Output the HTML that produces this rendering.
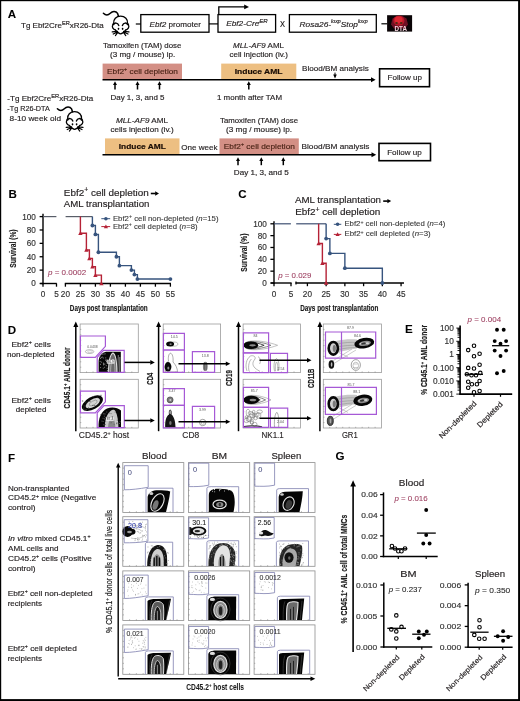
<!DOCTYPE html>
<html><head><meta charset="utf-8"><style>
html,body{margin:0;padding:0;background:#fff;}
svg{display:block;will-change:transform;}
text{font-family:"Liberation Sans", sans-serif;stroke:currentColor;}
</style></head><body>
<svg width="520" height="701" viewBox="0 0 520 701">
<rect x="0" y="0" width="520" height="701" fill="#000"/>
<rect x="1.2" y="1.2" width="516.9" height="697.9" fill="#fff"/>
<text x="7.70" y="17.70" font-size="11.6" font-weight="bold" fill="#000" color="#000" stroke-width="0.05">A</text>
<text x="21.00" y="28.30" font-size="7.9" fill="#231f20" color="#231f20" stroke-width="0.16" textLength="82.70" lengthAdjust="spacingAndGlyphs">Tg Ebf2Cre<tspan dy="-3.0" font-size="5.6">ER</tspan><tspan dy="3.0">xR26-Dta</tspan></text>
<g transform="translate(0.00 0.00)" fill="none" stroke="#000" stroke-width="1.2" stroke-linecap="round" stroke-linejoin="round">
<path d="M103.4,13.3 C105.5,15.3 108.3,15.2 110.3,13.2 C112.3,11.2 115.6,10.4 117.6,13.4 L118.5,16.2" stroke-width="1.5"/>
<path d="M115.4,30 C113.2,29.2 111.8,27.2 112.6,25.2 C112.9,24.3 113.4,23.6 113.7,23.2 C113.2,19.4 116.2,16.1 120.6,16.1 C125,16.1 128,19.4 127.5,23.2 C127.8,23.6 128.3,24.3 128.6,25.2 C129.4,27.2 128,29.2 125.8,30" stroke-width="1.3"/>
<path d="M113.6,24.6 C114.6,22.6 117.6,22.2 118.8,25.6 M127.6,24.6 C126.6,22.6 123.6,22.2 122.4,25.6" stroke-width="1.4"/>
<path d="M115.4,30 C116.8,31.6 118.6,33.8 120.6,33.8 C122.6,33.8 124.4,31.6 125.8,30"/>
<path d="M117.6,31.4 L112.2,31.9 M117.6,31.9 L113.2,34.1 M117.8,32.3 L115.4,35.6 M123.6,31.4 L129,31.9 M123.6,31.9 L128,34.1 M123.4,32.3 L125.8,35.6" stroke-width="1.15"/>
</g>
<g transform="translate(0.00 0.00)" fill="#000">
<ellipse cx="118.5" cy="28.8" rx="0.85" ry="1.15"/><ellipse cx="122.6" cy="28.8" rx="0.85" ry="1.15"/>
</g>
<line x1="135.80" y1="24.00" x2="140.80" y2="24.00" stroke="#000" stroke-width="1.2" />
<rect x="140.80" y="14.60" width="68.20" height="17.60" fill="none" stroke="#000" stroke-width="1.3" />
<text x="149.60" y="26.60" font-size="7.9" fill="#231f20" color="#231f20" stroke-width="0.16" textLength="51.40" lengthAdjust="spacingAndGlyphs"><tspan font-style="italic">Ebf2</tspan> promoter</text>
<line x1="209.00" y1="23.90" x2="218.00" y2="23.90" stroke="#000" stroke-width="1.2" />
<rect x="218.00" y="14.60" width="57.60" height="17.60" fill="none" stroke="#000" stroke-width="1.3" />
<path d="M218.8,14.6 V6.9 H245.5" fill="none" stroke="#000" stroke-width="1.3" />
<path d="M244.2,4.6 L249,6.9 L244.2,9.2 Z" fill="#000" />
<text x="226.20" y="26.40" font-size="7.9" font-style="italic" fill="#231f20" color="#231f20" stroke-width="0.16" textLength="41.50" lengthAdjust="spacingAndGlyphs">Ebf2-Cre<tspan dy="-3.2" font-size="5.8">ER</tspan><tspan dy="3.2"></tspan></text>
<text x="280.00" y="26.80" font-size="8.4" fill="#231f20" color="#231f20" stroke-width="0.16" textLength="5.00" lengthAdjust="spacingAndGlyphs">X</text>
<rect x="289.40" y="14.60" width="86.90" height="17.60" fill="none" stroke="#000" stroke-width="1.3" />
<text x="299.60" y="26.60" font-size="7.9" font-style="italic" fill="#231f20" color="#231f20" stroke-width="0.16" textLength="68.00" lengthAdjust="spacingAndGlyphs">Rosa26-<tspan dy="-3.2" font-size="5.0">loxp</tspan><tspan dy="3.2">Stop</tspan><tspan dy="-3.2" font-size="5.0">loxp</tspan><tspan dy="3.2"></tspan></text>
<line x1="381.40" y1="23.80" x2="387.20" y2="23.80" stroke="#000" stroke-width="1.2" />
<rect x="387.10" y="15.20" width="25.00" height="16.40" fill="#0a0406" />
<path d="M391,24.5 L392.5,18.5 L397,15.8 L402,15.8 L406.5,18.5 L408,24.5 L405,28.5 L394,28.5 Z" fill="#6e1024" />
<ellipse cx="398.9" cy="20.8" rx="5.6" ry="5" fill="#b81828"/>
<ellipse cx="398.6" cy="19.8" rx="4" ry="3.4" fill="#dc2832"/>
<ellipse cx="396.6" cy="23" rx="1.3" ry="1.1" fill="#4a2a10"/><ellipse cx="401.2" cy="23" rx="1.3" ry="1.1" fill="#4a2a10"/>
<text x="394.60" y="30.80" font-size="6.4" font-weight="bold" fill="#f4d4dc" color="#f4d4dc" stroke-width="0" textLength="12.40" lengthAdjust="spacingAndGlyphs">DTA</text>
<text x="103.10" y="47.80" font-size="7.9" fill="#231f20" color="#231f20" stroke-width="0.16" textLength="78.20" lengthAdjust="spacingAndGlyphs">Tamoxifen (TAM) dose</text>
<text x="110.00" y="56.80" font-size="7.9" fill="#231f20" color="#231f20" stroke-width="0.16" textLength="65.30" lengthAdjust="spacingAndGlyphs">(3 mg / mouse) ip.</text>
<text x="233.00" y="47.80" font-size="7.9" fill="#231f20" color="#231f20" stroke-width="0.16" textLength="51.00" lengthAdjust="spacingAndGlyphs"><tspan font-style="italic">MLL-AF9</tspan> AML</text>
<text x="229.50" y="56.80" font-size="7.9" fill="#231f20" color="#231f20" stroke-width="0.16" textLength="58.50" lengthAdjust="spacingAndGlyphs">cell injection (iv.)</text>
<rect x="102.60" y="63.60" width="79.40" height="15.40" fill="#d38f85" />
<rect x="221.20" y="63.60" width="75.10" height="15.40" fill="#edbf82" />
<line x1="102.50" y1="79.70" x2="372.00" y2="79.70" stroke="#000" stroke-width="1.6" />
<path d="M371,77.2 L375.6,79.7 L371,82.2 Z" fill="#000" />
<text x="107.00" y="74.20" font-size="7.9" fill="#4b2417" color="#4b2417" stroke-width="0.16" textLength="71.00" lengthAdjust="spacingAndGlyphs">Ebf2<tspan dy="-2.8" font-size="5">+</tspan><tspan dy="2.8"> cell depletion</tspan></text>
<text x="234.70" y="74.00" font-size="7.9" font-weight="bold" fill="#1a0d05" color="#1a0d05" stroke-width="0.2" textLength="47.80" lengthAdjust="spacingAndGlyphs">Induce AML</text>
<text x="302.00" y="70.50" font-size="7.9" fill="#231f20" color="#231f20" stroke-width="0.16" textLength="66.80" lengthAdjust="spacingAndGlyphs">Blood/BM analysis</text>
<line x1="335.00" y1="72.60" x2="335.00" y2="75.00" stroke="#000" stroke-width="1" />
<path d="M333.2,74.6 L336.8,74.6 L335,78.4 Z" fill="#000" />
<line x1="115.00" y1="84.60" x2="115.00" y2="89.50" stroke="#000" stroke-width="1.5" />
<path d="M113.00,85.10 L115.00,81.30 L117.00,85.10 Z" fill="#000" />
<line x1="137.50" y1="84.60" x2="137.50" y2="89.50" stroke="#000" stroke-width="1.5" />
<path d="M135.50,85.10 L137.50,81.30 L139.50,85.10 Z" fill="#000" />
<line x1="159.50" y1="84.60" x2="159.50" y2="89.50" stroke="#000" stroke-width="1.5" />
<path d="M157.50,85.10 L159.50,81.30 L161.50,85.10 Z" fill="#000" />
<line x1="248.80" y1="84.60" x2="248.80" y2="89.50" stroke="#000" stroke-width="1.5" />
<path d="M246.80,85.10 L248.80,81.30 L250.80,85.10 Z" fill="#000" />
<text x="110.50" y="100.30" font-size="7.9" fill="#231f20" color="#231f20" stroke-width="0.16" textLength="54.00" lengthAdjust="spacingAndGlyphs">Day 1, 3, and 5</text>
<text x="217.00" y="100.10" font-size="7.9" fill="#231f20" color="#231f20" stroke-width="0.16" textLength="65.00" lengthAdjust="spacingAndGlyphs">1 month after TAM</text>
<rect x="379.60" y="68.80" width="49.90" height="17.90" fill="none" stroke="#000" stroke-width="1.6" />
<text x="387.60" y="80.00" font-size="7.9" fill="#231f20" color="#231f20" stroke-width="0.16" textLength="34.50" lengthAdjust="spacingAndGlyphs">Follow up</text>
<text x="7.30" y="101.30" font-size="7.9" fill="#231f20" color="#231f20" stroke-width="0.16" textLength="86.00" lengthAdjust="spacingAndGlyphs">-Tg Ebf2Cre<tspan dy="-3.0" font-size="5.6">ER</tspan><tspan dy="3.0">xR26-Dta</tspan></text>
<text x="7.30" y="111.30" font-size="7.9" fill="#231f20" color="#231f20" stroke-width="0.16" textLength="42.50" lengthAdjust="spacingAndGlyphs">-Tg R26-DTA</text>
<text x="9.60" y="121.40" font-size="7.9" fill="#231f20" color="#231f20" stroke-width="0.16" textLength="51.40" lengthAdjust="spacingAndGlyphs">8-10 week old</text>
<g transform="translate(-46.00 95.50)" fill="none" stroke="#000" stroke-width="1.2" stroke-linecap="round" stroke-linejoin="round">
<path d="M103.4,13.3 C105.5,15.3 108.3,15.2 110.3,13.2 C112.3,11.2 115.6,10.4 117.6,13.4 L118.5,16.2" stroke-width="1.5"/>
<path d="M115.4,30 C113.2,29.2 111.8,27.2 112.6,25.2 C112.9,24.3 113.4,23.6 113.7,23.2 C113.2,19.4 116.2,16.1 120.6,16.1 C125,16.1 128,19.4 127.5,23.2 C127.8,23.6 128.3,24.3 128.6,25.2 C129.4,27.2 128,29.2 125.8,30" stroke-width="1.3"/>
<path d="M113.6,24.6 C114.6,22.6 117.6,22.2 118.8,25.6 M127.6,24.6 C126.6,22.6 123.6,22.2 122.4,25.6" stroke-width="1.4"/>
<path d="M115.4,30 C116.8,31.6 118.6,33.8 120.6,33.8 C122.6,33.8 124.4,31.6 125.8,30"/>
<path d="M117.6,31.4 L112.2,31.9 M117.6,31.9 L113.2,34.1 M117.8,32.3 L115.4,35.6 M123.6,31.4 L129,31.9 M123.6,31.9 L128,34.1 M123.4,32.3 L125.8,35.6" stroke-width="1.15"/>
</g>
<g transform="translate(-46.00 95.50)" fill="#000">
<ellipse cx="118.5" cy="28.8" rx="0.85" ry="1.15"/><ellipse cx="122.6" cy="28.8" rx="0.85" ry="1.15"/>
</g>
<text x="116.00" y="122.50" font-size="7.9" fill="#231f20" color="#231f20" stroke-width="0.16" textLength="52.00" lengthAdjust="spacingAndGlyphs"><tspan font-style="italic">MLL-AF9</tspan> AML</text>
<text x="110.50" y="132.00" font-size="7.9" fill="#231f20" color="#231f20" stroke-width="0.16" textLength="63.30" lengthAdjust="spacingAndGlyphs">cells injection (iv.)</text>
<rect x="105.00" y="138.40" width="74.50" height="15.60" fill="#edbf82" />
<text x="118.80" y="148.70" font-size="7.9" font-weight="bold" fill="#1a0d05" color="#1a0d05" stroke-width="0.2" textLength="47.00" lengthAdjust="spacingAndGlyphs">Induce AML</text>
<text x="181.30" y="150.00" font-size="7.9" fill="#231f20" color="#231f20" stroke-width="0.16" textLength="36.30" lengthAdjust="spacingAndGlyphs">One week</text>
<rect x="219.50" y="138.40" width="79.30" height="15.60" fill="#d38f85" />
<text x="220.00" y="122.50" font-size="7.9" fill="#231f20" color="#231f20" stroke-width="0.16" textLength="78.00" lengthAdjust="spacingAndGlyphs">Tamoxifen (TAM) dose</text>
<text x="226.00" y="132.00" font-size="7.9" fill="#231f20" color="#231f20" stroke-width="0.16" textLength="66.00" lengthAdjust="spacingAndGlyphs">(3 mg / mouse) ip.</text>
<text x="223.80" y="148.70" font-size="7.9" fill="#4b2417" color="#4b2417" stroke-width="0.16" textLength="71.20" lengthAdjust="spacingAndGlyphs">Ebf2<tspan dy="-2.8" font-size="5">+</tspan><tspan dy="2.8"> cell depletion</tspan></text>
<text x="301.50" y="149.30" font-size="7.9" fill="#231f20" color="#231f20" stroke-width="0.16" textLength="68.00" lengthAdjust="spacingAndGlyphs">Blood/BM analysis</text>
<line x1="102.50" y1="154.70" x2="373.00" y2="154.70" stroke="#000" stroke-width="1.6" />
<path d="M371.5,152.2 L376.2,154.7 L371.5,157.2 Z" fill="#000" />
<rect x="379.00" y="143.40" width="51.50" height="17.30" fill="none" stroke="#000" stroke-width="1.6" />
<text x="387.20" y="154.70" font-size="7.9" fill="#231f20" color="#231f20" stroke-width="0.16" textLength="34.50" lengthAdjust="spacingAndGlyphs">Follow up</text>
<line x1="238.00" y1="160.60" x2="238.00" y2="165.20" stroke="#000" stroke-width="1.5" />
<path d="M236.00,161.10 L238.00,157.30 L240.00,161.10 Z" fill="#000" />
<line x1="261.30" y1="160.60" x2="261.30" y2="165.20" stroke="#000" stroke-width="1.5" />
<path d="M259.30,161.10 L261.30,157.30 L263.30,161.10 Z" fill="#000" />
<line x1="283.30" y1="160.60" x2="283.30" y2="165.20" stroke="#000" stroke-width="1.5" />
<path d="M281.30,161.10 L283.30,157.30 L285.30,161.10 Z" fill="#000" />
<text x="233.80" y="175.40" font-size="7.9" fill="#231f20" color="#231f20" stroke-width="0.16" textLength="55.00" lengthAdjust="spacingAndGlyphs">Day 1, 3, and 5</text>
<text x="8.60" y="197.50" font-size="11.6" font-weight="bold" fill="#000" color="#000" stroke-width="0.05">B</text>
<text x="63.80" y="195.70" font-size="9.6" fill="#231f20" color="#231f20" stroke-width="0.16" textLength="85.00" lengthAdjust="spacingAndGlyphs">Ebf2<tspan dy="-3.4" font-size="6.6">+</tspan><tspan dy="3.4"> cell depletion</tspan></text>
<line x1="150.80" y1="193.50" x2="155.70" y2="193.50" stroke="#000" stroke-width="1.6" />
<path d="M155.20,191.30 L159.00,193.50 L155.20,195.70 Z" fill="#000" />
<text x="63.80" y="207.00" font-size="9.6" fill="#231f20" color="#231f20" stroke-width="0.16" textLength="85.60" lengthAdjust="spacingAndGlyphs">AML transplantation</text>
<line x1="43.00" y1="213.80" x2="43.00" y2="284.30" stroke="#000" stroke-width="1.4" />
<line x1="39.60" y1="283.50" x2="43.00" y2="283.50" stroke="#000" stroke-width="1.3" />
<text x="35.80" y="286.40" font-size="8.2" text-anchor="end" fill="#333" color="#333" stroke-width="0.16">0</text>
<line x1="39.60" y1="270.12" x2="43.00" y2="270.12" stroke="#000" stroke-width="1.3" />
<text x="35.80" y="273.02" font-size="8.2" text-anchor="end" fill="#333" color="#333" stroke-width="0.16">20</text>
<line x1="39.60" y1="256.74" x2="43.00" y2="256.74" stroke="#000" stroke-width="1.3" />
<text x="35.80" y="259.64" font-size="8.2" text-anchor="end" fill="#333" color="#333" stroke-width="0.16">40</text>
<line x1="39.60" y1="243.36" x2="43.00" y2="243.36" stroke="#000" stroke-width="1.3" />
<text x="35.80" y="246.26" font-size="8.2" text-anchor="end" fill="#333" color="#333" stroke-width="0.16">60</text>
<line x1="39.60" y1="229.98" x2="43.00" y2="229.98" stroke="#000" stroke-width="1.3" />
<text x="35.80" y="232.88" font-size="8.2" text-anchor="end" fill="#333" color="#333" stroke-width="0.16">80</text>
<line x1="39.60" y1="216.60" x2="43.00" y2="216.60" stroke="#000" stroke-width="1.3" />
<text x="35.80" y="219.50" font-size="8.2" text-anchor="end" fill="#333" color="#333" stroke-width="0.16">100</text>
<line x1="40.30" y1="283.50" x2="56.80" y2="283.50" stroke="#000" stroke-width="1.4" />
<line x1="64.80" y1="283.50" x2="171.00" y2="283.50" stroke="#000" stroke-width="1.4" />
<line x1="43.00" y1="283.50" x2="43.00" y2="286.70" stroke="#000" stroke-width="1.3" />
<text x="43.00" y="296.90" font-size="8.2" text-anchor="middle" fill="#333" color="#333" stroke-width="0.16">0</text>
<line x1="56.50" y1="283.50" x2="56.50" y2="286.70" stroke="#000" stroke-width="1.3" />
<text x="56.50" y="296.90" font-size="8.2" text-anchor="middle" fill="#333" color="#333" stroke-width="0.16">5</text>
<line x1="65.40" y1="283.50" x2="65.40" y2="286.70" stroke="#000" stroke-width="1.3" />
<text x="65.40" y="296.90" font-size="8.2" text-anchor="middle" fill="#333" color="#333" stroke-width="0.16">20</text>
<line x1="80.40" y1="283.50" x2="80.40" y2="286.70" stroke="#000" stroke-width="1.3" />
<text x="80.40" y="296.90" font-size="8.2" text-anchor="middle" fill="#333" color="#333" stroke-width="0.16">25</text>
<line x1="95.40" y1="283.50" x2="95.40" y2="286.70" stroke="#000" stroke-width="1.3" />
<text x="95.40" y="296.90" font-size="8.2" text-anchor="middle" fill="#333" color="#333" stroke-width="0.16">30</text>
<line x1="110.40" y1="283.50" x2="110.40" y2="286.70" stroke="#000" stroke-width="1.3" />
<text x="110.40" y="296.90" font-size="8.2" text-anchor="middle" fill="#333" color="#333" stroke-width="0.16">35</text>
<line x1="125.40" y1="283.50" x2="125.40" y2="286.70" stroke="#000" stroke-width="1.3" />
<text x="125.40" y="296.90" font-size="8.2" text-anchor="middle" fill="#333" color="#333" stroke-width="0.16">40</text>
<line x1="140.40" y1="283.50" x2="140.40" y2="286.70" stroke="#000" stroke-width="1.3" />
<text x="140.40" y="296.90" font-size="8.2" text-anchor="middle" fill="#333" color="#333" stroke-width="0.16">45</text>
<line x1="155.40" y1="283.50" x2="155.40" y2="286.70" stroke="#000" stroke-width="1.3" />
<text x="155.40" y="296.90" font-size="8.2" text-anchor="middle" fill="#333" color="#333" stroke-width="0.16">50</text>
<line x1="170.40" y1="283.50" x2="170.40" y2="286.70" stroke="#000" stroke-width="1.3" />
<text x="170.40" y="296.90" font-size="8.2" text-anchor="middle" fill="#333" color="#333" stroke-width="0.16">55</text>
<text x="69.80" y="311.00" font-size="9.3" font-weight="bold" fill="#1a1a1a" color="#1a1a1a" stroke-width="0.15" textLength="77.90" lengthAdjust="spacingAndGlyphs">Days post transplantation</text>
<text x="15.60" y="267.80" font-size="9.2" font-weight="bold" fill="#1a1a1a" color="#1a1a1a" stroke-width="0.15" textLength="38.40" lengthAdjust="spacingAndGlyphs" transform="rotate(-90 15.60 267.80)">Survival (%)</text>
<line x1="43.00" y1="216.60" x2="56.40" y2="216.60" stroke="#585d68" stroke-width="1.2" />
<line x1="65.60" y1="216.60" x2="92.40" y2="216.60" stroke="#585d68" stroke-width="1.2" />
<path d="M92.40,216.60 H92.40 V225.50 H95.40 V234.46 H98.40 V252.26 H116.40 V256.74 H119.40 V265.64 H131.40 V270.12 H134.40 V274.60 H137.40 V279.04 H170.40 V279.04" fill="none" stroke="#37547e" stroke-width="1.4" />
<circle cx="92.40" cy="225.50" r="1.9" fill="#37547e"/>
<circle cx="95.40" cy="234.46" r="1.9" fill="#37547e"/>
<circle cx="98.40" cy="252.26" r="1.9" fill="#37547e"/>
<circle cx="116.40" cy="256.74" r="1.9" fill="#37547e"/>
<circle cx="119.40" cy="265.64" r="1.9" fill="#37547e"/>
<circle cx="131.40" cy="270.12" r="1.9" fill="#37547e"/>
<circle cx="134.40" cy="274.60" r="1.9" fill="#37547e"/>
<circle cx="137.40" cy="279.04" r="1.9" fill="#37547e"/>
<circle cx="170.40" cy="279.04" r="1.9" fill="#37547e"/>
<path d="M80.40,216.60 V233.32 H86.40 V250.05 H89.40 V258.41 H92.40 V266.77 H95.40 V275.14 H101.40 V283.50" fill="none" stroke="#b52236" stroke-width="1.4" />
<path d="M78.20,235.08 L80.40,231.12 L82.60,235.08 Z" fill="#b52236" />
<path d="M84.20,251.81 L86.40,247.85 L88.60,251.81 Z" fill="#b52236" />
<path d="M87.20,260.17 L89.40,256.21 L91.60,260.17 Z" fill="#b52236" />
<path d="M90.20,268.53 L92.40,264.57 L94.60,268.53 Z" fill="#b52236" />
<path d="M93.20,276.90 L95.40,272.94 L97.60,276.90 Z" fill="#b52236" />
<path d="M99.20,285.26 L101.40,281.30 L103.60,285.26 Z" fill="#b52236" />
<line x1="101.30" y1="218.70" x2="110.20" y2="218.70" stroke="#37547e" stroke-width="1" />
<circle cx="105.90" cy="218.70" r="1.8" fill="#37547e"/>
<line x1="101.30" y1="226.60" x2="110.20" y2="226.60" stroke="#b52236" stroke-width="1" />
<path d="M103.80,228.28 L105.90,224.50 L108.00,228.28 Z" fill="#b52236" />
<text x="112.90" y="220.60" font-size="7.2" fill="#333" color="#333" stroke-width="0.08" textLength="105.60" lengthAdjust="spacingAndGlyphs">Ebf2<tspan dy="-2.6" font-size="4.8">+</tspan><tspan dy="2.6"> cell non-depleted (</tspan><tspan font-style="italic">n</tspan>=15)</text>
<text x="112.90" y="228.60" font-size="7.2" fill="#333" color="#333" stroke-width="0.08" textLength="84.60" lengthAdjust="spacingAndGlyphs">Ebf2<tspan dy="-2.6" font-size="4.8">+</tspan><tspan dy="2.6"> cell depleted (</tspan><tspan font-style="italic">n</tspan>=8)</text>
<text x="48.00" y="274.50" font-size="7.6" fill="#9a3a5c" color="#9a3a5c" stroke-width="0.06" textLength="38.20" lengthAdjust="spacingAndGlyphs"><tspan font-style="italic">p</tspan> = 0.0002</text>
<text x="238.30" y="197.50" font-size="11.6" font-weight="bold" fill="#000" color="#000" stroke-width="0.05">C</text>
<text x="295.00" y="202.50" font-size="9.6" fill="#231f20" color="#231f20" stroke-width="0.16" textLength="86.00" lengthAdjust="spacingAndGlyphs">AML transplantation</text>
<line x1="383.20" y1="201.10" x2="387.90" y2="201.10" stroke="#000" stroke-width="1.6" />
<path d="M387.40,198.90 L391.20,201.10 L387.40,203.30 Z" fill="#000" />
<text x="295.20" y="215.20" font-size="9.6" fill="#231f20" color="#231f20" stroke-width="0.16" textLength="85.10" lengthAdjust="spacingAndGlyphs">Ebf2<tspan dy="-3.4" font-size="6.6">+</tspan><tspan dy="3.4"> cell depletion</tspan></text>
<line x1="274.00" y1="221.20" x2="274.00" y2="283.80" stroke="#000" stroke-width="1.4" />
<line x1="270.40" y1="283.00" x2="274.00" y2="283.00" stroke="#000" stroke-width="1.3" />
<text x="266.90" y="285.90" font-size="8.2" text-anchor="end" fill="#333" color="#333" stroke-width="0.16">0</text>
<line x1="270.40" y1="271.16" x2="274.00" y2="271.16" stroke="#000" stroke-width="1.3" />
<text x="266.90" y="274.06" font-size="8.2" text-anchor="end" fill="#333" color="#333" stroke-width="0.16">20</text>
<line x1="270.40" y1="259.32" x2="274.00" y2="259.32" stroke="#000" stroke-width="1.3" />
<text x="266.90" y="262.22" font-size="8.2" text-anchor="end" fill="#333" color="#333" stroke-width="0.16">40</text>
<line x1="270.40" y1="247.48" x2="274.00" y2="247.48" stroke="#000" stroke-width="1.3" />
<text x="266.90" y="250.38" font-size="8.2" text-anchor="end" fill="#333" color="#333" stroke-width="0.16">60</text>
<line x1="270.40" y1="235.64" x2="274.00" y2="235.64" stroke="#000" stroke-width="1.3" />
<text x="266.90" y="238.54" font-size="8.2" text-anchor="end" fill="#333" color="#333" stroke-width="0.16">80</text>
<line x1="270.40" y1="223.80" x2="274.00" y2="223.80" stroke="#000" stroke-width="1.3" />
<text x="266.90" y="226.70" font-size="8.2" text-anchor="end" fill="#333" color="#333" stroke-width="0.16">100</text>
<line x1="270.70" y1="283.00" x2="291.60" y2="283.00" stroke="#000" stroke-width="1.4" />
<line x1="295.60" y1="283.00" x2="404.00" y2="283.00" stroke="#000" stroke-width="1.4" />
<line x1="296.00" y1="281.40" x2="296.00" y2="284.60" stroke="#000" stroke-width="1.2" />
<line x1="274.00" y1="283.00" x2="274.00" y2="286.20" stroke="#000" stroke-width="1.3" />
<text x="274.00" y="296.60" font-size="8.2" text-anchor="middle" fill="#333" color="#333" stroke-width="0.16">0</text>
<line x1="291.00" y1="283.00" x2="291.00" y2="286.20" stroke="#000" stroke-width="1.3" />
<text x="291.00" y="296.60" font-size="8.2" text-anchor="middle" fill="#333" color="#333" stroke-width="0.16">5</text>
<line x1="307.40" y1="283.00" x2="307.40" y2="286.20" stroke="#000" stroke-width="1.3" />
<text x="307.40" y="296.60" font-size="8.2" text-anchor="middle" fill="#333" color="#333" stroke-width="0.16">20</text>
<line x1="326.13" y1="283.00" x2="326.13" y2="286.20" stroke="#000" stroke-width="1.3" />
<text x="326.13" y="296.60" font-size="8.2" text-anchor="middle" fill="#333" color="#333" stroke-width="0.16">25</text>
<line x1="344.87" y1="283.00" x2="344.87" y2="286.20" stroke="#000" stroke-width="1.3" />
<text x="344.87" y="296.60" font-size="8.2" text-anchor="middle" fill="#333" color="#333" stroke-width="0.16">30</text>
<line x1="363.60" y1="283.00" x2="363.60" y2="286.20" stroke="#000" stroke-width="1.3" />
<text x="363.60" y="296.60" font-size="8.2" text-anchor="middle" fill="#333" color="#333" stroke-width="0.16">35</text>
<line x1="382.34" y1="283.00" x2="382.34" y2="286.20" stroke="#000" stroke-width="1.3" />
<text x="382.34" y="296.60" font-size="8.2" text-anchor="middle" fill="#333" color="#333" stroke-width="0.16">40</text>
<line x1="401.07" y1="283.00" x2="401.07" y2="286.20" stroke="#000" stroke-width="1.3" />
<text x="401.07" y="296.60" font-size="8.2" text-anchor="middle" fill="#333" color="#333" stroke-width="0.16">45</text>
<text x="300.20" y="310.80" font-size="9.3" font-weight="bold" fill="#1a1a1a" color="#1a1a1a" stroke-width="0.15" textLength="78.20" lengthAdjust="spacingAndGlyphs">Days post transplantation</text>
<text x="247.30" y="271.70" font-size="9.2" font-weight="bold" fill="#1a1a1a" color="#1a1a1a" stroke-width="0.15" textLength="38.10" lengthAdjust="spacingAndGlyphs" transform="rotate(-90 247.30 271.70)">Survival (%)</text>
<line x1="274.00" y1="223.80" x2="290.90" y2="223.80" stroke="#3f5172" stroke-width="1.2" />
<line x1="296.20" y1="223.80" x2="326.13" y2="223.80" stroke="#3f5172" stroke-width="1.2" />
<path d="M326.13,223.80 H326.13 V238.60 H329.88 V253.40 H344.87 V268.20 H382.34 V283.00" fill="none" stroke="#37547e" stroke-width="1.4" />
<circle cx="326.13" cy="238.60" r="1.9" fill="#37547e"/>
<circle cx="329.88" cy="253.40" r="1.9" fill="#37547e"/>
<circle cx="344.87" cy="268.20" r="1.9" fill="#37547e"/>
<circle cx="382.34" cy="283.00" r="1.9" fill="#37547e"/>
<path d="M318.64,223.80 V243.51 H322.39 V263.29 H326.13 V283.00" fill="none" stroke="#b52236" stroke-width="1.4" />
<path d="M316.44,245.27 L318.64,241.31 L320.84,245.27 Z" fill="#b52236" />
<path d="M320.19,265.05 L322.39,261.09 L324.59,265.05 Z" fill="#b52236" />
<path d="M323.94,284.76 L326.13,280.80 L328.33,284.76 Z" fill="#b52236" />
<line x1="333.80" y1="224.30" x2="341.30" y2="224.30" stroke="#37547e" stroke-width="1" />
<circle cx="337.60" cy="224.30" r="1.8" fill="#37547e"/>
<line x1="333.80" y1="234.40" x2="341.30" y2="234.40" stroke="#b52236" stroke-width="1" />
<path d="M335.50,236.08 L337.60,232.30 L339.70,236.08 Z" fill="#b52236" />
<text x="344.40" y="226.40" font-size="7.2" fill="#333" color="#333" stroke-width="0.08" textLength="100.90" lengthAdjust="spacingAndGlyphs">Ebf2<tspan dy="-2.6" font-size="4.8">+</tspan><tspan dy="2.6"> cell non-depleted (</tspan><tspan font-style="italic">n</tspan>=4)</text>
<text x="344.40" y="236.40" font-size="7.2" fill="#333" color="#333" stroke-width="0.08" textLength="86.30" lengthAdjust="spacingAndGlyphs">Ebf2<tspan dy="-2.6" font-size="4.8">+</tspan><tspan dy="2.6"> cell depleted (</tspan><tspan font-style="italic">n</tspan>=3)</text>
<text x="278.20" y="278.20" font-size="7.6" fill="#9a3a5c" color="#9a3a5c" stroke-width="0.06" textLength="33.20" lengthAdjust="spacingAndGlyphs"><tspan font-style="italic">p</tspan> = 0.029</text>
<text x="7.80" y="333.60" font-size="11.6" font-weight="bold" fill="#000" color="#000" stroke-width="0.05">D</text>
<text x="31.20" y="346.50" font-size="7.9" text-anchor="middle" fill="#231f20" color="#231f20" stroke-width="0.16" textLength="39.50" lengthAdjust="spacingAndGlyphs">Ebf2<tspan dy="-2.8" font-size="5">+</tspan><tspan dy="2.8"> cells</tspan></text>
<text x="30.80" y="356.80" font-size="7.9" text-anchor="middle" fill="#231f20" color="#231f20" stroke-width="0.16" textLength="47.60" lengthAdjust="spacingAndGlyphs">non-depleted</text>
<text x="31.20" y="402.60" font-size="7.9" text-anchor="middle" fill="#231f20" color="#231f20" stroke-width="0.16" textLength="39.50" lengthAdjust="spacingAndGlyphs">Ebf2<tspan dy="-2.8" font-size="5">+</tspan><tspan dy="2.8"> cells</tspan></text>
<text x="31.10" y="412.40" font-size="7.9" text-anchor="middle" fill="#231f20" color="#231f20" stroke-width="0.16" textLength="30.60" lengthAdjust="spacingAndGlyphs">depleted</text>
<line x1="75.80" y1="326.60" x2="75.80" y2="431.20" stroke="#000" stroke-width="1.5" />
<path d="M73.30,327.10 L75.80,321.60 L78.30,327.10 Z" fill="#000" />
<line x1="158.60" y1="326.60" x2="158.60" y2="431.20" stroke="#000" stroke-width="1.5" />
<path d="M156.10,327.10 L158.60,321.60 L161.10,327.10 Z" fill="#000" />
<line x1="238.50" y1="326.60" x2="238.50" y2="431.20" stroke="#000" stroke-width="1.5" />
<path d="M236.00,327.10 L238.50,321.60 L241.00,327.10 Z" fill="#000" />
<line x1="319.90" y1="326.60" x2="319.90" y2="431.20" stroke="#000" stroke-width="1.5" />
<path d="M317.40,327.10 L319.90,321.60 L322.40,327.10 Z" fill="#000" />
<text x="70.40" y="408.40" font-size="9.6" font-weight="bold" fill="#1a1a1a" color="#1a1a1a" stroke-width="0.18" textLength="61.00" lengthAdjust="spacingAndGlyphs" transform="rotate(-90 70.40 408.40)">CD45.1<tspan dy="-3.2" font-size="6">+</tspan><tspan dy="3.2"> AML donor</tspan></text>
<text x="153.30" y="384.70" font-size="9.6" font-weight="bold" fill="#1a1a1a" color="#1a1a1a" stroke-width="0.18" textLength="12.00" lengthAdjust="spacingAndGlyphs" transform="rotate(-90 153.30 384.70)">CD4</text>
<text x="232.40" y="386.10" font-size="9.6" font-weight="bold" fill="#1a1a1a" color="#1a1a1a" stroke-width="0.18" textLength="16.00" lengthAdjust="spacingAndGlyphs" transform="rotate(-90 232.40 386.10)">CD19</text>
<text x="313.90" y="387.90" font-size="9.6" font-weight="bold" fill="#1a1a1a" color="#1a1a1a" stroke-width="0.18" textLength="19.30" lengthAdjust="spacingAndGlyphs" transform="rotate(-90 313.90 387.90)">CD11B</text>
<text x="78.80" y="438.10" font-size="8.2" fill="#231f20" color="#231f20" stroke-width="0.12" textLength="50.40" lengthAdjust="spacingAndGlyphs">CD45.2<tspan dy="-2.8" font-size="5.2">+</tspan><tspan dy="2.8"> host</tspan></text>
<text x="182.30" y="438.40" font-size="8.2" fill="#231f20" color="#231f20" stroke-width="0.12" textLength="16.90" lengthAdjust="spacingAndGlyphs">CD8</text>
<text x="261.50" y="438.40" font-size="8.2" fill="#231f20" color="#231f20" stroke-width="0.12" textLength="22.30" lengthAdjust="spacingAndGlyphs">NK1.1</text>
<text x="341.90" y="437.80" font-size="8.2" fill="#231f20" color="#231f20" stroke-width="0.12" textLength="15.80" lengthAdjust="spacingAndGlyphs">GR1</text>
<rect x="80.10" y="324.00" width="58.20" height="48.60" fill="none" stroke="#9c9c9c" stroke-width="0.8" />
<path d="M80.10,329.40 h1.2 M80.10,334.80 h1.2 M80.10,340.20 h1.2 M80.10,345.60 h1.2 M80.10,351.00 h1.2 M80.10,356.40 h1.2 M80.10,361.80 h1.2 M80.10,367.20 h1.2 M86.57,372.60 v-1.2 M93.03,372.60 v-1.2 M99.50,372.60 v-1.2 M105.97,372.60 v-1.2 M112.43,372.60 v-1.2 M118.90,372.60 v-1.2 M125.37,372.60 v-1.2 M131.83,372.60 v-1.2 " fill="none" stroke="#777" stroke-width="0.5" />
<rect x="80.10" y="379.30" width="58.20" height="48.70" fill="none" stroke="#9c9c9c" stroke-width="0.8" />
<path d="M80.10,384.71 h1.2 M80.10,390.12 h1.2 M80.10,395.53 h1.2 M80.10,400.94 h1.2 M80.10,406.36 h1.2 M80.10,411.77 h1.2 M80.10,417.18 h1.2 M80.10,422.59 h1.2 M86.57,428.00 v-1.2 M93.03,428.00 v-1.2 M99.50,428.00 v-1.2 M105.97,428.00 v-1.2 M112.43,428.00 v-1.2 M118.90,428.00 v-1.2 M125.37,428.00 v-1.2 M131.83,428.00 v-1.2 " fill="none" stroke="#777" stroke-width="0.5" />
<rect x="163.20" y="324.00" width="57.40" height="48.60" fill="none" stroke="#9c9c9c" stroke-width="0.8" />
<path d="M163.20,329.40 h1.2 M163.20,334.80 h1.2 M163.20,340.20 h1.2 M163.20,345.60 h1.2 M163.20,351.00 h1.2 M163.20,356.40 h1.2 M163.20,361.80 h1.2 M163.20,367.20 h1.2 M169.58,372.60 v-1.2 M175.96,372.60 v-1.2 M182.33,372.60 v-1.2 M188.71,372.60 v-1.2 M195.09,372.60 v-1.2 M201.47,372.60 v-1.2 M207.84,372.60 v-1.2 M214.22,372.60 v-1.2 " fill="none" stroke="#777" stroke-width="0.5" />
<rect x="163.20" y="379.30" width="57.40" height="48.70" fill="none" stroke="#9c9c9c" stroke-width="0.8" />
<path d="M163.20,384.71 h1.2 M163.20,390.12 h1.2 M163.20,395.53 h1.2 M163.20,400.94 h1.2 M163.20,406.36 h1.2 M163.20,411.77 h1.2 M163.20,417.18 h1.2 M163.20,422.59 h1.2 M169.58,428.00 v-1.2 M175.96,428.00 v-1.2 M182.33,428.00 v-1.2 M188.71,428.00 v-1.2 M195.09,428.00 v-1.2 M201.47,428.00 v-1.2 M207.84,428.00 v-1.2 M214.22,428.00 v-1.2 " fill="none" stroke="#777" stroke-width="0.5" />
<rect x="243.10" y="324.00" width="57.30" height="48.60" fill="none" stroke="#9c9c9c" stroke-width="0.8" />
<path d="M243.10,329.40 h1.2 M243.10,334.80 h1.2 M243.10,340.20 h1.2 M243.10,345.60 h1.2 M243.10,351.00 h1.2 M243.10,356.40 h1.2 M243.10,361.80 h1.2 M243.10,367.20 h1.2 M249.47,372.60 v-1.2 M255.83,372.60 v-1.2 M262.20,372.60 v-1.2 M268.57,372.60 v-1.2 M274.93,372.60 v-1.2 M281.30,372.60 v-1.2 M287.67,372.60 v-1.2 M294.03,372.60 v-1.2 " fill="none" stroke="#777" stroke-width="0.5" />
<rect x="243.10" y="379.30" width="57.30" height="48.70" fill="none" stroke="#9c9c9c" stroke-width="0.8" />
<path d="M243.10,384.71 h1.2 M243.10,390.12 h1.2 M243.10,395.53 h1.2 M243.10,400.94 h1.2 M243.10,406.36 h1.2 M243.10,411.77 h1.2 M243.10,417.18 h1.2 M243.10,422.59 h1.2 M249.47,428.00 v-1.2 M255.83,428.00 v-1.2 M262.20,428.00 v-1.2 M268.57,428.00 v-1.2 M274.93,428.00 v-1.2 M281.30,428.00 v-1.2 M287.67,428.00 v-1.2 M294.03,428.00 v-1.2 " fill="none" stroke="#777" stroke-width="0.5" />
<rect x="323.30" y="324.00" width="58.30" height="48.60" fill="none" stroke="#9c9c9c" stroke-width="0.8" />
<path d="M323.30,329.40 h1.2 M323.30,334.80 h1.2 M323.30,340.20 h1.2 M323.30,345.60 h1.2 M323.30,351.00 h1.2 M323.30,356.40 h1.2 M323.30,361.80 h1.2 M323.30,367.20 h1.2 M329.78,372.60 v-1.2 M336.26,372.60 v-1.2 M342.73,372.60 v-1.2 M349.21,372.60 v-1.2 M355.69,372.60 v-1.2 M362.17,372.60 v-1.2 M368.64,372.60 v-1.2 M375.12,372.60 v-1.2 " fill="none" stroke="#777" stroke-width="0.5" />
<rect x="323.30" y="379.30" width="58.30" height="48.70" fill="none" stroke="#9c9c9c" stroke-width="0.8" />
<path d="M323.30,384.71 h1.2 M323.30,390.12 h1.2 M323.30,395.53 h1.2 M323.30,400.94 h1.2 M323.30,406.36 h1.2 M323.30,411.77 h1.2 M323.30,417.18 h1.2 M323.30,422.59 h1.2 M329.78,428.00 v-1.2 M336.26,428.00 v-1.2 M342.73,428.00 v-1.2 M349.21,428.00 v-1.2 M355.69,428.00 v-1.2 M362.17,428.00 v-1.2 M368.64,428.00 v-1.2 M375.12,428.00 v-1.2 " fill="none" stroke="#777" stroke-width="0.5" />
<path d="M98.6,372 L98.6,361 C99,356 102,352.6 106,351.8 L120.8,351.8 L120.8,372 Z" fill="#060606" />
<path d="M102.9,363.1 h0.9 M106.4,361.4 h0.9 M103.3,363.6 h0.9 M100.9,362.2 h0.9 M104.2,367.3 h0.9 M100.2,358.5 h0.9 M100.2,367.6 h0.9 M104.7,353.8 h0.9 M106.9,370.4 h0.9 M104.4,364.1 h0.9 M100.7,353.3 h0.9 M103.5,354.1 h0.9 M100.9,357.4 h0.9 M99.7,361.4 h0.9 M102.8,368.2 h0.9 M103.4,364.5 h0.9 M103.2,364.9 h0.9 M102.9,358.0 h0.9 M107.0,370.9 h0.9 M105.8,365.7 h0.9 M101.9,357.1 h0.9 M101.7,354.3 h0.9 M105.2,360.2 h0.9 M105.8,360.0 h0.9 M106.7,368.3 h0.9 M99.5,356.8 h0.9 M106.3,361.5 h0.9 M106.9,360.2 h0.9 M100.0,364.3 h0.9 M105.3,357.9 h0.9 " fill="none" stroke="#9a9a9a" stroke-width="0.9" />
<path d="M108.6,372 C108.6,362 110.2,354.5 113,353 C115.6,354.5 116.8,362 116.8,372" fill="#6a6a6a" stroke="#e0e0e0" stroke-width="1.1" />
<path d="M110.6,372 C110.6,365 111.6,360 113,359 C114.4,360 115,365 115,372" fill="none" stroke="#c8c8c8" stroke-width="0.7" />
<path d="M117.8,372 L118.3,355 M119.6,372 L119.8,357" fill="none" stroke="#cfcfcf" stroke-width="0.6" />
<rect x="106.80" y="359.80" width="7.60" height="3.80" fill="#f4f4f4" />
<text x="110.60" y="362.80" font-size="3.4" text-anchor="middle" fill="#333" color="#333" stroke-width="0">86.9</text>
<ellipse cx="89.6" cy="351.6" rx="4.2" ry="1.9" fill="none" stroke="#888" stroke-width="0.6"/>
<ellipse cx="90" cy="351.7" rx="2.2" ry="1" fill="none" stroke="#aaa" stroke-width="0.5"/>
<text x="92.40" y="347.80" font-size="3.4" text-anchor="middle" fill="#555" color="#555" stroke-width="0">0.0438</text>
<path d="M80.40,336.00 L105.40,336.00 L105.40,346.30 L95.30,357.40 L80.40,357.40 Z" fill="none" stroke="#a659d6" stroke-width="1.2" />
<path d="M103.50,350.40 L124.20,350.40 L124.20,372.30 L97.20,372.30 L97.20,357.40 Z" fill="none" stroke="#a659d6" stroke-width="1.2" />
<ellipse cx="92.4" cy="403.2" rx="11.6" ry="6.2" transform="rotate(-30 92.4 403.2)" fill="#060606"/>
<ellipse cx="92.8" cy="403.2" rx="8" ry="3.7" transform="rotate(-30 92.8 403.2)" fill="#d4d4d4"/>
<ellipse cx="93.2" cy="403" rx="4.5" ry="1.9" transform="rotate(-30 93.2 403)" fill="none" stroke="#8a8a8a" stroke-width="0.6"/>
<path d="M92.4,405.5 h1.0 M96.7,397.3 h1.0 M82.2,401.0 h1.0 M88.0,408.0 h1.0 M97.2,404.6 h1.0 M94.3,405.6 h1.0 M85.2,402.0 h1.0 M85.6,409.5 h1.0 M83.3,408.1 h1.0 M83.6,406.0 h1.0 M89.4,401.5 h1.0 M100.5,395.3 h1.0 M83.3,409.6 h1.0 M93.2,396.5 h1.0 " fill="none" stroke="#444" stroke-width="1.0" />
<path d="M98.6,427.6 C98,419 101,411.5 107,408.5 C112,406.5 117.5,407.5 121,410.5 L121,427.6 Z" fill="#060606" />
<path d="M104.8,427.6 C104.6,420 107,414 110.5,411 C112.2,409.5 114.2,409 115.4,411 C117.4,415 118.4,421 118.4,427.6 Z" fill="#c8c8c8" />
<path d="M108,427.6 C108.2,422.5 109.8,418.5 112,416.5 C114,418.5 115.2,422.5 115.4,427.6 Z" fill="#8a8a8a" />
<path d="M105.2,421.6 h0.9 M113.7,424.4 h0.9 M103.7,413.9 h0.9 M102.9,413.8 h0.9 M114.7,412.2 h0.9 M110.6,413.6 h0.9 M105.9,417.3 h0.9 M116.8,420.3 h0.9 M100.3,414.7 h0.9 M102.9,424.8 h0.9 M116.2,423.7 h0.9 M116.5,422.7 h0.9 M119.0,423.5 h0.9 M105.1,424.4 h0.9 M109.7,422.8 h0.9 M111.3,417.3 h0.9 M107.3,417.3 h0.9 M106.3,412.0 h0.9 M116.4,423.6 h0.9 M119.7,421.7 h0.9 M111.1,422.7 h0.9 M102.7,421.5 h0.9 M108.9,413.0 h0.9 M104.1,418.9 h0.9 M105.1,417.8 h0.9 M112.1,416.7 h0.9 M102.6,418.3 h0.9 M104.7,414.0 h0.9 M103.9,416.2 h0.9 M101.5,421.1 h0.9 " fill="none" stroke="#666" stroke-width="0.9" />
<rect x="106.20" y="417.20" width="7.60" height="3.60" fill="#f0f0f0" />
<text x="110.00" y="420.00" font-size="3.4" text-anchor="middle" fill="#333" color="#333" stroke-width="0">87.4</text>
<path d="M80.40,391.20 L105.40,391.20 L105.40,401.80 L95.30,412.80 L80.40,412.80 Z" fill="none" stroke="#a659d6" stroke-width="1.2" />
<path d="M104.00,405.60 L124.30,405.60 L124.30,427.70 L97.20,427.70 L97.20,412.80 Z" fill="none" stroke="#a659d6" stroke-width="1.2" />
<ellipse cx="173.5" cy="344.1" rx="4.4" ry="2.1" fill="none" stroke="#999" stroke-width="0.6"/>
<ellipse cx="170.1" cy="344.1" rx="4" ry="2.5" fill="#080808"/>
<ellipse cx="170.6" cy="344.1" rx="1.2" ry="0.7" fill="#bbb"/>
<path d="M170.5,353.2 C168.5,353.5 168,358 168.5,361 C165.5,363.5 164.8,368 165.2,372 L177.5,372 C177.5,368 175.5,364.5 173,362 C173.5,358 172.5,353.5 170.5,353.2 Z" fill="none" stroke="#777" stroke-width="0.6" />
<ellipse cx="168" cy="366.8" rx="3.4" ry="4.8" fill="#080808"/>
<ellipse cx="168.3" cy="368" rx="1" ry="1.6" fill="#888"/>
<ellipse cx="205.3" cy="366.4" rx="2.4" ry="4.6" fill="#8a8a8a"/>
<path d="M204.4,362.5 L204.4,370.5 M206.2,362.5 L206.2,370.5" fill="none" stroke="#444" stroke-width="0.6" />
<text x="174.30" y="337.80" font-size="3.6" text-anchor="middle" fill="#555" color="#555" stroke-width="0">14.5</text>
<text x="205.30" y="356.60" font-size="3.6" text-anchor="middle" fill="#555" color="#555" stroke-width="0">13.8</text>
<path d="M163.40,333.40 L184.40,333.40 L184.40,350.00 L163.40,350.00 Z" fill="none" stroke="#a659d6" stroke-width="1.2" />
<path d="M163.40,350.00 L184.40,350.00 L184.40,372.40 L163.40,372.40 Z" fill="none" stroke="#a659d6" stroke-width="1.2" />
<path d="M192.40,351.60 L214.60,351.60 L214.60,372.40 L192.40,372.40 Z" fill="none" stroke="#a659d6" stroke-width="1.2" />
<circle cx="170.1" cy="399.9" r="3" fill="#7a7a7a" stroke="#333" stroke-width="0.6"/>
<circle cx="170.3" cy="399.9" r="1" fill="#ccc"/>
<path d="M170.2,409.5 C168.8,409.8 168.6,412.5 169,414.5 C166,416.5 165,421 165.2,427.6 L175.5,427.6 C175.5,421 173.8,416.5 171.5,414.5 C172,412.5 171.6,409.8 170.2,409.5 Z" fill="#161616" />
<ellipse cx="170.2" cy="412.3" rx="1" ry="2" fill="#9a9a9a"/>
<ellipse cx="170.4" cy="423" rx="1.2" ry="2" fill="#777"/>
<circle cx="202.7" cy="422.5" r="3.2" fill="none" stroke="#777" stroke-width="0.7"/>
<circle cx="202.7" cy="423" r="1.5" fill="none" stroke="#999" stroke-width="0.5"/>
<text x="172.00" y="392.40" font-size="3.6" text-anchor="middle" fill="#555" color="#555" stroke-width="0">3.47</text>
<text x="202.60" y="411.20" font-size="3.6" text-anchor="middle" fill="#555" color="#555" stroke-width="0">3.99</text>
<path d="M163.40,388.60 L184.40,388.60 L184.40,405.30 L163.40,405.30 Z" fill="none" stroke="#a659d6" stroke-width="1.2" />
<path d="M163.40,405.30 L184.40,405.30 L184.40,427.80 L163.40,427.80 Z" fill="none" stroke="#a659d6" stroke-width="1.2" />
<path d="M192.40,406.40 L214.60,406.40 L214.60,427.80 L192.40,427.80 Z" fill="none" stroke="#a659d6" stroke-width="1.2" />
<path d="M244.00,345.30 C244.00,339.10 262.48,339.72 277.60,345.30 C262.48,350.88 244.00,351.50 244.00,345.30 Z" fill="none" stroke="#999" stroke-width="0.6" />
<path d="M244.00,345.30 C244.00,340.15 258.78,340.67 270.88,345.30 C258.78,349.93 244.00,350.45 244.00,345.30 Z" fill="none" stroke="#555" stroke-width="0.7" />
<path d="M244.00,345.30 C244.00,341.21 255.09,341.62 264.16,345.30 C255.09,348.98 244.00,349.39 244.00,345.30 Z" fill="none" stroke="#222" stroke-width="0.8" />
<path d="M244.00,345.30 C244.00,342.26 251.39,342.57 257.44,345.30 C251.39,348.03 244.00,348.34 244.00,345.30 Z" fill="none" stroke="#111" stroke-width="0.9" />
<ellipse cx="251.00" cy="345.30" rx="7.2" ry="3.8" fill="#060606"/>
<ellipse cx="252.50" cy="345.30" rx="3.24" ry="1.14" fill="#8a8a8a"/>
<path d="M247,371 C245,366 246,359 250.5,356 C253,355 256,356.5 255,359 C252.5,362 252,365 255,368 C257,370 259,370.5 260,371.5 M258,356.5 C260.5,358 261,362 259.5,364 M249,371 C248,366 249,361 251.5,359" fill="none" stroke="#888" stroke-width="0.6" />
<path d="M274.5,371 C273.5,366 274,360 276.5,358.5 C279,360 279.5,366 278.5,371 M275.5,371 C275,367 275.5,363 276.6,362 C277.7,363 278,367 277.6,371" fill="none" stroke="#888" stroke-width="0.6" />
<text x="255.50" y="337.00" font-size="3.6" text-anchor="middle" fill="#555" color="#555" stroke-width="0">84</text>
<text x="281.00" y="370.00" font-size="3.6" text-anchor="middle" fill="#555" color="#555" stroke-width="0">2.54</text>
<path d="M243.40,332.80 L268.60,332.80 L268.60,352.80 L243.40,352.80 Z" fill="none" stroke="#a659d6" stroke-width="1.2" />
<path d="M243.40,352.80 L268.60,352.80 L268.60,372.60 L243.40,372.60 Z" fill="none" stroke="#a659d6" stroke-width="1.2" />
<path d="M270.40,353.30 L287.50,353.30 L287.50,372.60 L270.40,372.60 Z" fill="none" stroke="#a659d6" stroke-width="1.2" />
<path d="M244.00,399.90 C244.00,393.50 258.85,394.14 271.00,399.90 C258.85,405.66 244.00,406.30 244.00,399.90 Z" fill="none" stroke="#999" stroke-width="0.6" />
<path d="M244.00,399.90 C244.00,394.59 255.88,395.12 265.60,399.90 C255.88,404.68 244.00,405.21 244.00,399.90 Z" fill="none" stroke="#555" stroke-width="0.7" />
<path d="M244.00,399.90 C244.00,395.68 252.91,396.10 260.20,399.90 C252.91,403.70 244.00,404.12 244.00,399.90 Z" fill="none" stroke="#222" stroke-width="0.8" />
<path d="M244.00,399.90 C244.00,396.76 249.94,397.08 254.80,399.90 C249.94,402.72 244.00,403.04 244.00,399.90 Z" fill="none" stroke="#111" stroke-width="0.9" />
<ellipse cx="251.50" cy="399.90" rx="7.6" ry="4.2" fill="#060606"/>
<ellipse cx="253.00" cy="399.90" rx="3.42" ry="1.26" fill="#8a8a8a"/>
<path d="M248.2,413.1 a2.4,1.3 0 1,0 4.7,0 a2.4,1.3 0 1,0 -4.7,0 M252.2,416.1 a1.3,2.1 0 1,0 2.6,0 a1.3,2.1 0 1,0 -2.6,0 M245.2,417.1 a1.3,1.4 0 1,0 2.7,0 a1.3,1.4 0 1,0 -2.7,0 M250.5,422.6 a1.4,1.6 0 1,0 2.8,0 a1.4,1.6 0 1,0 -2.8,0 M252.5,424.3 a2.2,1.9 0 1,0 4.5,0 a2.2,1.9 0 1,0 -4.5,0 M256.9,411.7 a2.7,1.7 0 1,0 5.5,0 a2.7,1.7 0 1,0 -5.5,0 M246.3,412.6 a1.8,2.7 0 1,0 3.5,0 a1.8,2.7 0 1,0 -3.5,0 M246.2,419.1 a2.4,1.9 0 1,0 4.7,0 a2.4,1.9 0 1,0 -4.7,0 M252.4,411.9 a1.3,1.6 0 1,0 2.6,0 a1.3,1.6 0 1,0 -2.6,0 M253.8,417.0 a1.8,2.3 0 1,0 3.5,0 a1.8,2.3 0 1,0 -3.5,0 M249.7,415.2 a2.6,2.5 0 1,0 5.3,0 a2.6,2.5 0 1,0 -5.3,0 M247.3,419.0 a2.1,2.8 0 1,0 4.3,0 a2.1,2.8 0 1,0 -4.3,0 M253.2,415.0 a3.0,1.4 0 1,0 5.9,0 a3.0,1.4 0 1,0 -5.9,0 M250.4,421.6 a1.5,2.1 0 1,0 2.9,0 a1.5,2.1 0 1,0 -2.9,0 M244.0,420.4 a2.6,2.2 0 1,0 5.2,0 a2.6,2.2 0 1,0 -5.2,0 M255.8,415.4 a2.5,2.3 0 1,0 4.9,0 a2.5,2.3 0 1,0 -4.9,0 " fill="none" stroke="#777" stroke-width="0.55" />
<path d="M244,426.5 C250,425.5 256,425.8 262,426.8" fill="none" stroke="#333" stroke-width="1.2" />
<path d="M274.5,427 C274,420 275,413.5 276.8,412.3 C278.6,413.5 279,420 278.6,427" fill="none" stroke="#777" stroke-width="0.6" />
<text x="254.20" y="391.80" font-size="3.6" text-anchor="middle" fill="#555" color="#555" stroke-width="0">85.7</text>
<text x="280.50" y="422.60" font-size="3.6" text-anchor="middle" fill="#555" color="#555" stroke-width="0">2.04</text>
<path d="M243.40,387.40 L268.60,387.40 L268.60,407.30 L243.40,407.30 Z" fill="none" stroke="#a659d6" stroke-width="1.2" />
<path d="M243.40,407.30 L268.60,407.30 L268.60,427.30 L243.40,427.30 Z" fill="none" stroke="#a659d6" stroke-width="1.2" />
<path d="M270.40,408.20 L287.70,408.20 L287.70,427.30 L270.40,427.30 Z" fill="none" stroke="#a659d6" stroke-width="1.2" />
<path d="M336,341.00 C342,339.50 350,339.00 357,339.50 L357,348.50 C350,349.50 342,351.00 336,353.00 Z" fill="#c8c8c8" />
<path d="M337,344.00 C344,342.50 351,342.00 357,342.50 M337,347.00 C344,345.50 351,345.00 357,345.50 M337,350.00 C344,348.00 351,347.50 357,347.50" fill="none" stroke="#888" stroke-width="0.5" />
<path d="M331,362.00 L352,349.00 M333,364.00 L356,350.00 M338,352.00 L348,357.00" fill="none" stroke="#999" stroke-width="0.5" />
<ellipse cx="333.3" cy="348.30" rx="4.6" ry="6.3" fill="#d0d0d0" stroke="#080808" stroke-width="2.6"/>
<ellipse cx="334.3" cy="348.50" rx="1.6" ry="3.4" fill="#7a7a7a"/>
<ellipse cx="364.3" cy="343.20" rx="10" ry="5.2" transform="rotate(-10 364.3 343.20)" fill="#060606"/>
<ellipse cx="364.8" cy="343.50" rx="6.20" ry="2.50" transform="rotate(-10 364.3 343.20)" fill="#8a8a8a"/>
<ellipse cx="361.8" cy="343.70" rx="2.20" ry="1.04" fill="#d8d8d8"/>
<ellipse cx="367.3" cy="343.20" rx="1.80" ry="1.04" fill="#d0d0d0"/>
<ellipse cx="363.3" cy="343.50" rx="2.50" ry="0.94" transform="rotate(-10 364.3 343.20)" fill="#333"/>
<ellipse cx="331.4" cy="364.5" rx="2.8" ry="4.3" fill="#111"/>
<ellipse cx="331.6" cy="364.5" rx="0.8" ry="2.2" fill="#bbb"/>
<ellipse cx="355.8" cy="365" rx="4.6" ry="5.4" fill="none" stroke="#666" stroke-width="0.6"/>
<ellipse cx="355.8" cy="365.6" rx="2.8" ry="3.4" fill="none" stroke="#888" stroke-width="0.5"/>
<path d="M353.5,367.5 h4.6 M354,364 h3.6" fill="none" stroke="#999" stroke-width="0.5" />
<text x="350.50" y="329.40" font-size="3.6" text-anchor="middle" fill="#555" color="#555" stroke-width="0">87.9</text>
<text x="357.40" y="337.20" font-size="3.6" text-anchor="middle" fill="#555" color="#555" stroke-width="0">84.6</text>
<path d="M325.50,332.00 L375.70,332.00 L375.70,358.20 L325.50,358.20 Z" fill="none" stroke="#a659d6" stroke-width="1.2" />
<line x1="341.50" y1="332.00" x2="341.50" y2="358.20" stroke="#a659d6" stroke-width="1.2" />
<path d="M336,396.40 C342,394.90 350,394.40 357,394.90 L357,403.90 C350,404.90 342,406.40 336,408.40 Z" fill="#c8c8c8" />
<path d="M337,399.40 C344,397.90 351,397.40 357,397.90 M337,402.40 C344,400.90 351,400.40 357,400.90 M337,405.40 C344,403.40 351,402.90 357,402.90" fill="none" stroke="#888" stroke-width="0.5" />
<path d="M331,417.40 L352,404.40 M333,419.40 L356,405.40 M338,407.40 L348,412.40" fill="none" stroke="#999" stroke-width="0.5" />
<ellipse cx="333.3" cy="403.70" rx="4.6" ry="6.3" fill="#d0d0d0" stroke="#080808" stroke-width="2.6"/>
<ellipse cx="334.3" cy="403.90" rx="1.6" ry="3.4" fill="#7a7a7a"/>
<ellipse cx="362.8" cy="400.20" rx="9.6" ry="5.6" transform="rotate(-8 362.8 400.20)" fill="#060606"/>
<ellipse cx="363.3" cy="400.50" rx="5.95" ry="2.69" transform="rotate(-8 362.8 400.20)" fill="#8a8a8a"/>
<ellipse cx="360.3" cy="400.70" rx="2.11" ry="1.12" fill="#d8d8d8"/>
<ellipse cx="365.8" cy="400.20" rx="1.73" ry="1.12" fill="#d0d0d0"/>
<ellipse cx="361.8" cy="400.50" rx="2.40" ry="1.01" transform="rotate(-8 362.8 400.20)" fill="#333"/>
<ellipse cx="330.3" cy="420.9" rx="3" ry="4.6" fill="#555" stroke="#1a1a1a" stroke-width="0.8"/>
<ellipse cx="330.5" cy="421" rx="0.9" ry="2.4" fill="#aaa"/>
<text x="351.10" y="385.80" font-size="3.6" text-anchor="middle" fill="#555" color="#555" stroke-width="0">85.7</text>
<text x="356.80" y="392.90" font-size="3.6" text-anchor="middle" fill="#555" color="#555" stroke-width="0">88.1</text>
<path d="M325.40,387.40 L376.40,387.40 L376.40,414.30 L325.40,414.30 Z" fill="none" stroke="#a659d6" stroke-width="1.2" />
<line x1="341.50" y1="387.40" x2="341.50" y2="414.30" stroke="#a659d6" stroke-width="1.2" />
<line x1="124.50" y1="362.40" x2="150.80" y2="362.40" stroke="#000" stroke-width="1.5" />
<path d="M150.30,360.10 L154.80,362.40 L150.30,364.70 Z" fill="#000" />
<line x1="178.50" y1="363.80" x2="226.30" y2="363.80" stroke="#000" stroke-width="1.5" />
<path d="M225.80,361.50 L230.30,363.80 L225.80,366.10 Z" fill="#000" />
<line x1="259.50" y1="360.30" x2="307.50" y2="360.30" stroke="#000" stroke-width="1.5" />
<path d="M307.00,358.00 L311.50,360.30 L307.00,362.60 Z" fill="#000" />
<line x1="124.50" y1="420.50" x2="150.80" y2="420.50" stroke="#000" stroke-width="1.5" />
<path d="M150.30,418.20 L154.80,420.50 L150.30,422.80 Z" fill="#000" />
<line x1="178.50" y1="421.80" x2="226.30" y2="421.80" stroke="#000" stroke-width="1.5" />
<path d="M225.80,419.50 L230.30,421.80 L225.80,424.10 Z" fill="#000" />
<line x1="259.50" y1="418.20" x2="307.50" y2="418.20" stroke="#000" stroke-width="1.5" />
<path d="M307.00,415.90 L311.50,418.20 L307.00,420.50 Z" fill="#000" />
<text x="405.10" y="333.20" font-size="11.6" font-weight="bold" fill="#000" color="#000" stroke-width="0.05">E</text>
<line x1="460.10" y1="325.60" x2="460.10" y2="394.80" stroke="#000" stroke-width="1.6" />
<line x1="459.40" y1="394.10" x2="512.20" y2="394.10" stroke="#000" stroke-width="1.6" />
<path d="M456.30,394.10 H460.10 M457.50,390.13 H460.10 M457.50,387.80 H460.10 M457.50,386.15 H460.10 M457.50,384.87 H460.10 M457.50,383.83 H460.10 M457.50,382.94 H460.10 M457.50,382.18 H460.10 M457.50,381.50 H460.10 M456.30,380.90 H460.10 M457.50,376.93 H460.10 M457.50,374.60 H460.10 M457.50,372.95 H460.10 M457.50,371.67 H460.10 M457.50,370.63 H460.10 M457.50,369.74 H460.10 M457.50,368.98 H460.10 M457.50,368.30 H460.10 M456.30,367.70 H460.10 M457.50,363.73 H460.10 M457.50,361.40 H460.10 M457.50,359.75 H460.10 M457.50,358.47 H460.10 M457.50,357.43 H460.10 M457.50,356.54 H460.10 M457.50,355.78 H460.10 M457.50,355.10 H460.10 M456.30,354.50 H460.10 M457.50,350.53 H460.10 M457.50,348.20 H460.10 M457.50,346.55 H460.10 M457.50,345.27 H460.10 M457.50,344.23 H460.10 M457.50,343.34 H460.10 M457.50,342.58 H460.10 M457.50,341.90 H460.10 M456.30,341.30 H460.10 M457.50,337.33 H460.10 M457.50,335.00 H460.10 M457.50,333.35 H460.10 M457.50,332.07 H460.10 M457.50,331.03 H460.10 M457.50,330.14 H460.10 M457.50,329.38 H460.10 M457.50,328.70 H460.10 M456.30,328.10 H460.10 " fill="none" stroke="#000" stroke-width="0.9" />
<text x="453.80" y="331.00" font-size="8.3" text-anchor="end" fill="#333" color="#333" stroke-width="0.16">100</text>
<text x="453.80" y="344.20" font-size="8.3" text-anchor="end" fill="#333" color="#333" stroke-width="0.16">10</text>
<text x="453.80" y="357.40" font-size="8.3" text-anchor="end" fill="#333" color="#333" stroke-width="0.16">1</text>
<text x="453.80" y="370.60" font-size="8.3" text-anchor="end" fill="#333" color="#333" stroke-width="0.16">0.100</text>
<text x="453.80" y="383.80" font-size="8.3" text-anchor="end" fill="#333" color="#333" stroke-width="0.16">0.010</text>
<text x="453.80" y="397.00" font-size="8.3" text-anchor="end" fill="#333" color="#333" stroke-width="0.16">0.001</text>
<line x1="474.00" y1="394.10" x2="474.00" y2="396.80" stroke="#000" stroke-width="1.2" />
<line x1="500.50" y1="394.10" x2="500.50" y2="396.80" stroke="#000" stroke-width="1.2" />
<text x="427.40" y="394.80" font-size="9.6" font-weight="bold" fill="#1a1a1a" color="#1a1a1a" stroke-width="0.18" textLength="69.80" lengthAdjust="spacingAndGlyphs" transform="rotate(-90 427.40 394.80)">% CD45.1<tspan dy="-3.2" font-size="6">+</tspan><tspan dy="3.2"> AML donor</tspan></text>
<text x="467.50" y="321.80" font-size="7.6" fill="#9a3a5c" color="#9a3a5c" stroke-width="0.06" textLength="33.60" lengthAdjust="spacingAndGlyphs"><tspan font-style="italic">p</tspan> = 0.004</text>
<circle cx="474.00" cy="345.70" r="1.75" fill="#fff" stroke="#000" stroke-width="1.1"/>
<circle cx="468.20" cy="350.10" r="1.75" fill="#fff" stroke="#000" stroke-width="1.1"/>
<circle cx="479.60" cy="353.70" r="1.75" fill="#fff" stroke="#000" stroke-width="1.1"/>
<circle cx="474.00" cy="356.30" r="1.75" fill="#fff" stroke="#000" stroke-width="1.1"/>
<circle cx="479.60" cy="364.80" r="1.75" fill="#fff" stroke="#000" stroke-width="1.1"/>
<circle cx="468.20" cy="367.90" r="1.75" fill="#fff" stroke="#000" stroke-width="1.1"/>
<circle cx="474.00" cy="368.50" r="1.75" fill="#fff" stroke="#000" stroke-width="1.1"/>
<circle cx="466.80" cy="374.20" r="1.75" fill="#fff" stroke="#000" stroke-width="1.1"/>
<circle cx="471.50" cy="375.20" r="1.75" fill="#fff" stroke="#000" stroke-width="1.1"/>
<circle cx="476.00" cy="375.20" r="1.75" fill="#fff" stroke="#000" stroke-width="1.1"/>
<circle cx="480.30" cy="372.90" r="1.75" fill="#fff" stroke="#000" stroke-width="1.1"/>
<circle cx="468.20" cy="381.80" r="1.75" fill="#fff" stroke="#000" stroke-width="1.1"/>
<circle cx="471.90" cy="384.30" r="1.75" fill="#fff" stroke="#000" stroke-width="1.1"/>
<circle cx="476.90" cy="384.30" r="1.75" fill="#fff" stroke="#000" stroke-width="1.1"/>
<circle cx="479.60" cy="381.00" r="1.75" fill="#fff" stroke="#000" stroke-width="1.1"/>
<circle cx="468.20" cy="387.70" r="1.75" fill="#fff" stroke="#000" stroke-width="1.1"/>
<circle cx="474.00" cy="392.20" r="1.75" fill="#fff" stroke="#000" stroke-width="1.1"/>
<circle cx="479.60" cy="391.00" r="1.75" fill="#fff" stroke="#000" stroke-width="1.1"/>
<line x1="465.00" y1="374.30" x2="483.00" y2="374.30" stroke="#000" stroke-width="1.3" />
<circle cx="497.00" cy="329.70" r="1.95" fill="#000"/>
<circle cx="503.70" cy="329.70" r="1.95" fill="#000"/>
<circle cx="494.70" cy="341.10" r="1.95" fill="#000"/>
<circle cx="500.50" cy="343.70" r="1.95" fill="#000"/>
<circle cx="506.10" cy="341.10" r="1.95" fill="#000"/>
<circle cx="494.70" cy="350.60" r="1.95" fill="#000"/>
<circle cx="506.10" cy="350.60" r="1.95" fill="#000"/>
<circle cx="500.50" cy="356.00" r="1.95" fill="#000"/>
<circle cx="497.00" cy="373.30" r="1.95" fill="#000"/>
<circle cx="503.70" cy="371.00" r="1.95" fill="#000"/>
<line x1="492.00" y1="345.70" x2="509.20" y2="345.70" stroke="#000" stroke-width="1.3" />
<text x="459.40" y="421.60" font-size="7.6" text-anchor="middle" fill="#231f20" color="#231f20" stroke-width="0.16" textLength="49.50" lengthAdjust="spacingAndGlyphs" transform="rotate(-45 459.40 421.60)">Non-depleted</text>
<text x="491.60" y="416.40" font-size="7.6" text-anchor="middle" fill="#231f20" color="#231f20" stroke-width="0.16" textLength="32.50" lengthAdjust="spacingAndGlyphs" transform="rotate(-45 491.60 416.40)">Depleted</text>
<text x="8.00" y="461.50" font-size="11.6" font-weight="bold" fill="#000" color="#000" stroke-width="0.05">F</text>
<text x="141.90" y="458.80" font-size="9.4" fill="#231f20" color="#231f20" stroke-width="0.16" textLength="25.00" lengthAdjust="spacingAndGlyphs">Blood</text>
<text x="211.70" y="458.80" font-size="9.4" fill="#231f20" color="#231f20" stroke-width="0.16" textLength="15.40" lengthAdjust="spacingAndGlyphs">BM</text>
<text x="271.50" y="458.80" font-size="9.4" fill="#231f20" color="#231f20" stroke-width="0.16" textLength="29.70" lengthAdjust="spacingAndGlyphs">Spleen</text>
<text x="8.00" y="490.50" font-size="7.9" fill="#231f20" color="#231f20" stroke-width="0.16" textLength="61.40" lengthAdjust="spacingAndGlyphs">Non-transplanted</text>
<text x="8.00" y="500.40" font-size="7.9" fill="#231f20" color="#231f20" stroke-width="0.16" textLength="88.30" lengthAdjust="spacingAndGlyphs">CD45.2<tspan dy="-2.8" font-size="5">+</tspan><tspan dy="2.8"> mice (Negative</tspan></text>
<text x="8.00" y="510.20" font-size="7.9" fill="#231f20" color="#231f20" stroke-width="0.16" textLength="27.50" lengthAdjust="spacingAndGlyphs">control)</text>
<text x="8.00" y="541.00" font-size="7.9" fill="#231f20" color="#231f20" stroke-width="0.16" textLength="82.50" lengthAdjust="spacingAndGlyphs"><tspan font-style="italic">In vitro</tspan> mixed CD45.1<tspan dy="-2.8" font-size="5">+</tspan><tspan dy="2.8"></tspan></text>
<text x="8.00" y="550.70" font-size="7.9" fill="#231f20" color="#231f20" stroke-width="0.16" textLength="50.50" lengthAdjust="spacingAndGlyphs">AML cells and</text>
<text x="8.00" y="560.70" font-size="7.9" fill="#231f20" color="#231f20" stroke-width="0.16" textLength="84.00" lengthAdjust="spacingAndGlyphs">CD45.2<tspan dy="-2.8" font-size="5">+</tspan><tspan dy="2.8"> cells (Positive</tspan></text>
<text x="8.00" y="570.60" font-size="7.9" fill="#231f20" color="#231f20" stroke-width="0.16" textLength="27.50" lengthAdjust="spacingAndGlyphs">control)</text>
<text x="7.70" y="595.80" font-size="7.9" fill="#231f20" color="#231f20" stroke-width="0.16" textLength="85.00" lengthAdjust="spacingAndGlyphs">Ebf2<tspan dy="-2.8" font-size="5">+</tspan><tspan dy="2.8"> cell non-depleted</tspan></text>
<text x="7.70" y="605.60" font-size="7.9" fill="#231f20" color="#231f20" stroke-width="0.16" textLength="34.20" lengthAdjust="spacingAndGlyphs">recipients</text>
<text x="7.70" y="650.80" font-size="7.9" fill="#231f20" color="#231f20" stroke-width="0.16" textLength="69.20" lengthAdjust="spacingAndGlyphs">Ebf2<tspan dy="-2.8" font-size="5">+</tspan><tspan dy="2.8"> cell depleted</tspan></text>
<text x="7.70" y="660.80" font-size="7.9" fill="#231f20" color="#231f20" stroke-width="0.16" textLength="34.20" lengthAdjust="spacingAndGlyphs">recipients</text>
<line x1="118.20" y1="467.10" x2="118.20" y2="676.50" stroke="#000" stroke-width="1.4" />
<path d="M116.00,467.60 L118.20,462.80 L120.40,467.60 Z" fill="#000" />
<line x1="118.20" y1="678.80" x2="311.00" y2="678.80" stroke="#000" stroke-width="1.4" />
<path d="M310.5,676.6 L315.3,678.8 L310.5,681 Z" fill="#000" />
<text x="112.30" y="633.00" font-size="9.4" fill="#1a1a1a" color="#1a1a1a" stroke-width="0.18" textLength="123.00" lengthAdjust="spacingAndGlyphs" transform="rotate(-90 112.30 633.00)">% CD45.1<tspan dy="-3.2" font-size="6">+</tspan><tspan dy="3.2"> donor cells of total live cells</tspan></text>
<text x="186.30" y="690.40" font-size="9.2" font-weight="bold" fill="#1a1a1a" color="#1a1a1a" stroke-width="0.05" textLength="57.70" lengthAdjust="spacingAndGlyphs">CD45.2<tspan dy="-3.2" font-size="6">+</tspan><tspan dy="3.2"> host cells</tspan></text>
<rect x="122.80" y="462.60" width="61.00" height="49.80" fill="none" stroke="#8e8e8e" stroke-width="0.8" />
<path d="M122.80,468.13 h1.2 M122.80,473.67 h1.2 M122.80,479.20 h1.2 M122.80,484.73 h1.2 M122.80,490.27 h1.2 M122.80,495.80 h1.2 M122.80,501.33 h1.2 M122.80,506.87 h1.2 M129.58,512.40 v-1.2 M136.36,512.40 v-1.2 M143.13,512.40 v-1.2 M149.91,512.40 v-1.2 M156.69,512.40 v-1.2 M163.47,512.40 v-1.2 M170.24,512.40 v-1.2 M177.02,512.40 v-1.2 " fill="none" stroke="#777" stroke-width="0.5" />
<rect x="122.80" y="516.70" width="61.00" height="49.60" fill="none" stroke="#8e8e8e" stroke-width="0.8" />
<path d="M122.80,522.21 h1.2 M122.80,527.72 h1.2 M122.80,533.23 h1.2 M122.80,538.74 h1.2 M122.80,544.26 h1.2 M122.80,549.77 h1.2 M122.80,555.28 h1.2 M122.80,560.79 h1.2 M129.58,566.30 v-1.2 M136.36,566.30 v-1.2 M143.13,566.30 v-1.2 M149.91,566.30 v-1.2 M156.69,566.30 v-1.2 M163.47,566.30 v-1.2 M170.24,566.30 v-1.2 M177.02,566.30 v-1.2 " fill="none" stroke="#777" stroke-width="0.5" />
<rect x="122.80" y="570.90" width="61.00" height="49.50" fill="none" stroke="#8e8e8e" stroke-width="0.8" />
<path d="M122.80,576.40 h1.2 M122.80,581.90 h1.2 M122.80,587.40 h1.2 M122.80,592.90 h1.2 M122.80,598.40 h1.2 M122.80,603.90 h1.2 M122.80,609.40 h1.2 M122.80,614.90 h1.2 M129.58,620.40 v-1.2 M136.36,620.40 v-1.2 M143.13,620.40 v-1.2 M149.91,620.40 v-1.2 M156.69,620.40 v-1.2 M163.47,620.40 v-1.2 M170.24,620.40 v-1.2 M177.02,620.40 v-1.2 " fill="none" stroke="#777" stroke-width="0.5" />
<rect x="122.80" y="624.90" width="61.00" height="49.40" fill="none" stroke="#8e8e8e" stroke-width="0.8" />
<path d="M122.80,630.39 h1.2 M122.80,635.88 h1.2 M122.80,641.37 h1.2 M122.80,646.86 h1.2 M122.80,652.34 h1.2 M122.80,657.83 h1.2 M122.80,663.32 h1.2 M122.80,668.81 h1.2 M129.58,674.30 v-1.2 M136.36,674.30 v-1.2 M143.13,674.30 v-1.2 M149.91,674.30 v-1.2 M156.69,674.30 v-1.2 M163.47,674.30 v-1.2 M170.24,674.30 v-1.2 M177.02,674.30 v-1.2 " fill="none" stroke="#777" stroke-width="0.5" />
<rect x="188.50" y="462.60" width="61.20" height="49.80" fill="none" stroke="#8e8e8e" stroke-width="0.8" />
<path d="M188.50,468.13 h1.2 M188.50,473.67 h1.2 M188.50,479.20 h1.2 M188.50,484.73 h1.2 M188.50,490.27 h1.2 M188.50,495.80 h1.2 M188.50,501.33 h1.2 M188.50,506.87 h1.2 M195.30,512.40 v-1.2 M202.10,512.40 v-1.2 M208.90,512.40 v-1.2 M215.70,512.40 v-1.2 M222.50,512.40 v-1.2 M229.30,512.40 v-1.2 M236.10,512.40 v-1.2 M242.90,512.40 v-1.2 " fill="none" stroke="#777" stroke-width="0.5" />
<rect x="188.50" y="516.70" width="61.20" height="49.60" fill="none" stroke="#8e8e8e" stroke-width="0.8" />
<path d="M188.50,522.21 h1.2 M188.50,527.72 h1.2 M188.50,533.23 h1.2 M188.50,538.74 h1.2 M188.50,544.26 h1.2 M188.50,549.77 h1.2 M188.50,555.28 h1.2 M188.50,560.79 h1.2 M195.30,566.30 v-1.2 M202.10,566.30 v-1.2 M208.90,566.30 v-1.2 M215.70,566.30 v-1.2 M222.50,566.30 v-1.2 M229.30,566.30 v-1.2 M236.10,566.30 v-1.2 M242.90,566.30 v-1.2 " fill="none" stroke="#777" stroke-width="0.5" />
<rect x="188.50" y="570.90" width="61.20" height="49.50" fill="none" stroke="#8e8e8e" stroke-width="0.8" />
<path d="M188.50,576.40 h1.2 M188.50,581.90 h1.2 M188.50,587.40 h1.2 M188.50,592.90 h1.2 M188.50,598.40 h1.2 M188.50,603.90 h1.2 M188.50,609.40 h1.2 M188.50,614.90 h1.2 M195.30,620.40 v-1.2 M202.10,620.40 v-1.2 M208.90,620.40 v-1.2 M215.70,620.40 v-1.2 M222.50,620.40 v-1.2 M229.30,620.40 v-1.2 M236.10,620.40 v-1.2 M242.90,620.40 v-1.2 " fill="none" stroke="#777" stroke-width="0.5" />
<rect x="188.50" y="624.90" width="61.20" height="49.40" fill="none" stroke="#8e8e8e" stroke-width="0.8" />
<path d="M188.50,630.39 h1.2 M188.50,635.88 h1.2 M188.50,641.37 h1.2 M188.50,646.86 h1.2 M188.50,652.34 h1.2 M188.50,657.83 h1.2 M188.50,663.32 h1.2 M188.50,668.81 h1.2 M195.30,674.30 v-1.2 M202.10,674.30 v-1.2 M208.90,674.30 v-1.2 M215.70,674.30 v-1.2 M222.50,674.30 v-1.2 M229.30,674.30 v-1.2 M236.10,674.30 v-1.2 M242.90,674.30 v-1.2 " fill="none" stroke="#777" stroke-width="0.5" />
<rect x="254.10" y="462.60" width="60.90" height="49.80" fill="none" stroke="#8e8e8e" stroke-width="0.8" />
<path d="M254.10,468.13 h1.2 M254.10,473.67 h1.2 M254.10,479.20 h1.2 M254.10,484.73 h1.2 M254.10,490.27 h1.2 M254.10,495.80 h1.2 M254.10,501.33 h1.2 M254.10,506.87 h1.2 M260.87,512.40 v-1.2 M267.63,512.40 v-1.2 M274.40,512.40 v-1.2 M281.17,512.40 v-1.2 M287.93,512.40 v-1.2 M294.70,512.40 v-1.2 M301.47,512.40 v-1.2 M308.23,512.40 v-1.2 " fill="none" stroke="#777" stroke-width="0.5" />
<rect x="254.10" y="516.70" width="60.90" height="49.60" fill="none" stroke="#8e8e8e" stroke-width="0.8" />
<path d="M254.10,522.21 h1.2 M254.10,527.72 h1.2 M254.10,533.23 h1.2 M254.10,538.74 h1.2 M254.10,544.26 h1.2 M254.10,549.77 h1.2 M254.10,555.28 h1.2 M254.10,560.79 h1.2 M260.87,566.30 v-1.2 M267.63,566.30 v-1.2 M274.40,566.30 v-1.2 M281.17,566.30 v-1.2 M287.93,566.30 v-1.2 M294.70,566.30 v-1.2 M301.47,566.30 v-1.2 M308.23,566.30 v-1.2 " fill="none" stroke="#777" stroke-width="0.5" />
<rect x="254.10" y="570.90" width="60.90" height="49.50" fill="none" stroke="#8e8e8e" stroke-width="0.8" />
<path d="M254.10,576.40 h1.2 M254.10,581.90 h1.2 M254.10,587.40 h1.2 M254.10,592.90 h1.2 M254.10,598.40 h1.2 M254.10,603.90 h1.2 M254.10,609.40 h1.2 M254.10,614.90 h1.2 M260.87,620.40 v-1.2 M267.63,620.40 v-1.2 M274.40,620.40 v-1.2 M281.17,620.40 v-1.2 M287.93,620.40 v-1.2 M294.70,620.40 v-1.2 M301.47,620.40 v-1.2 M308.23,620.40 v-1.2 " fill="none" stroke="#777" stroke-width="0.5" />
<rect x="254.10" y="624.90" width="60.90" height="49.40" fill="none" stroke="#8e8e8e" stroke-width="0.8" />
<path d="M254.10,630.39 h1.2 M254.10,635.88 h1.2 M254.10,641.37 h1.2 M254.10,646.86 h1.2 M254.10,652.34 h1.2 M254.10,657.83 h1.2 M254.10,663.32 h1.2 M254.10,668.81 h1.2 M260.87,674.30 v-1.2 M267.63,674.30 v-1.2 M274.40,674.30 v-1.2 M281.17,674.30 v-1.2 M287.93,674.30 v-1.2 M294.70,674.30 v-1.2 M301.47,674.30 v-1.2 M308.23,674.30 v-1.2 " fill="none" stroke="#777" stroke-width="0.5" />
<path d="M124.40,465.70 H148.20 V487.30 C138.68,488.90 131.54,489.80 124.40,489.80 Z" fill="none" stroke="#7d7fae" stroke-width="0.8" />
<text x="129.90" y="474.60" font-size="7.4" text-anchor="middle" fill="#4a4f80" color="#4a4f80" stroke-width="0.05">0</text>
<path d="M146.00,512.20 V489.70 Q146.00,488.20 149.00,488.20 H173.00 V512.20" fill="none" stroke="#7d7fae" stroke-width="0.8" />
<path d="M147.6,512 L147.6,497 C148.5,492 153,490.3 158,490.3 C163,490.3 167.5,490.5 170.2,491.5 C169.5,498 167.5,506 166,512 Z" fill="#050505" />
<ellipse cx="157.5" cy="502.5" rx="5.6" ry="9.5" transform="rotate(28 157.5 502.5)" fill="none" stroke="#e8e8e8" stroke-width="1.1"/>
<ellipse cx="155.5" cy="505" rx="2.6" ry="5" transform="rotate(20 155.5 505)" fill="#777"/>
<ellipse cx="151.3" cy="493.5" rx="2" ry="1.5" fill="#ccc"/>
<path d="M188.80,463.20 H208.80 V485.20 C200.80,486.80 194.80,486.60 188.80,486.60 Z" fill="none" stroke="#7d7fae" stroke-width="0.8" />
<text x="195.10" y="471.90" font-size="7.4" text-anchor="middle" fill="#4a4f80" color="#4a4f80" stroke-width="0.05">0</text>
<path d="M206.90,512.20 V488.20 Q206.90,486.70 209.90,486.70 H238.70 V512.20" fill="none" stroke="#7d7fae" stroke-width="0.8" />
<path d="M208.8,512 L208.8,495 C209,491 212,489 216,488.8 C222,488.4 228,489 232,491 C234.5,494 235,500 234.6,505 C234.2,508 234,510 233.5,512 Z" fill="#050505" />
<ellipse cx="219.6" cy="504.4" rx="6.6" ry="4.3" fill="none" stroke="#e6e6e6" stroke-width="1.2"/>
<ellipse cx="219.8" cy="504.5" rx="3.6" ry="2.6" fill="#888"/>
<ellipse cx="219.8" cy="504.5" rx="1.2" ry="1.8" fill="#333"/>
<path d="M212.1,491.3 h0.8 M226.6,488.6 h0.8 M220.4,489.5 h0.8 M224.0,491.0 h0.8 M211.2,487.6 h0.8 M228.2,489.4 h0.8 M226.5,487.5 h0.8 M219.2,490.7 h0.8 M214.3,491.8 h0.8 M229.7,487.6 h0.8 M209.6,489.9 h0.8 M230.6,489.2 h0.8 M214.0,489.4 h0.8 M209.7,488.5 h0.8 M219.1,489.7 h0.8 M214.4,488.5 h0.8 M214.0,489.6 h0.8 M215.7,487.6 h0.8 M228.3,490.0 h0.8 M223.8,488.3 h0.8 M231.8,491.4 h0.8 M211.8,489.0 h0.8 " fill="none" stroke="#fff" stroke-width="0.8" />
<path d="M254.80,463.20 H274.60 V485.20 C266.68,486.80 260.74,486.20 254.80,486.20 Z" fill="none" stroke="#7d7fae" stroke-width="0.8" />
<text x="260.20" y="471.90" font-size="7.4" text-anchor="middle" fill="#4a4f80" color="#4a4f80" stroke-width="0.05">0</text>
<path d="M276.70,512.20 V490.10 Q276.70,488.60 279.70,488.60 H308.50 V512.20" fill="none" stroke="#7d7fae" stroke-width="0.8" />
<path d="M278.7,512 L278.7,497 C279,494 281,492 285,491.8 L302.8,491.3 C302.5,498 301,505 299.5,512 Z" fill="#050505" />
<ellipse cx="288.6" cy="503.6" rx="5.2" ry="7" transform="rotate(25 288.6 503.6)" fill="none" stroke="#e6e6e6" stroke-width="1.1"/>
<ellipse cx="288.8" cy="504.5" rx="3" ry="4.6" transform="rotate(20 288.8 504.5)" fill="#3a3a3a"/>
<ellipse cx="282" cy="494.5" rx="1.8" ry="1.3" fill="#ccc"/>
<path d="M146.2,540.0 h0.7 M129.1,522.7 h0.7 M143.9,535.7 h0.7 M140.7,527.2 h0.7 M139.5,533.1 h0.7 M139.0,524.2 h0.7 M136.2,528.9 h0.7 M141.7,540.9 h0.7 M146.0,531.9 h0.7 M136.5,526.4 h0.7 M128.7,521.5 h0.7 M136.8,527.4 h0.7 M135.2,538.8 h0.7 M138.0,532.2 h0.7 M132.5,521.5 h0.7 M134.2,523.7 h0.7 M137.7,541.0 h0.7 M140.8,524.6 h0.7 M145.0,536.9 h0.7 M142.0,539.1 h0.7 M142.5,536.8 h0.7 M134.7,540.6 h0.7 M146.3,524.2 h0.7 M142.3,535.3 h0.7 M136.8,531.6 h0.7 M137.3,539.5 h0.7 M137.5,537.6 h0.7 M134.7,538.7 h0.7 M145.1,530.2 h0.7 M138.8,539.4 h0.7 M141.8,530.7 h0.7 M132.2,527.5 h0.7 M141.3,524.3 h0.7 M145.3,526.4 h0.7 M145.3,527.2 h0.7 M146.2,535.1 h0.7 M137.6,531.4 h0.7 M140.4,532.8 h0.7 M133.9,525.2 h0.7 M137.7,539.7 h0.7 M139.8,522.5 h0.7 M143.6,535.5 h0.7 M145.2,524.8 h0.7 M142.2,522.2 h0.7 M140.4,526.5 h0.7 " fill="none" stroke="#777" stroke-width="0.7" />
<path d="M131,526 C137,524.5 143,526 146,529 M131,538 C137,539.5 142,538 145.5,534.5 M133,528.5 C138,528 141,530 142.5,532" fill="none" stroke="#999" stroke-width="0.5" />
<ellipse cx="127.6" cy="531.5" rx="5.2" ry="5.4" fill="#0a0a0a"/>
<ellipse cx="131.5" cy="531.8" rx="4" ry="3" fill="#0a0a0a"/>
<ellipse cx="129.5" cy="532" rx="2.4" ry="1.2" fill="#9a9a9a"/>
<path d="M124.20,519.70 H147.90 V541.20 C138.42,542.80 131.31,542.80 124.20,542.80 Z" fill="none" stroke="#7d7fae" stroke-width="0.8" />
<text x="128.00" y="528.30" font-size="6.6" fill="#3a46b0" color="#3a46b0" stroke-width="0.08" textLength="14.00" lengthAdjust="spacingAndGlyphs">20.8</text>
<path d="M145.40,566.10 V543.70 Q145.40,542.20 148.40,542.20 H172.70 V566.10" fill="none" stroke="#7d7fae" stroke-width="0.8" />
<path d="M147.2,566 C147,556 150,547 156.5,545.2 C162,544 166,548 167,556 L167.3,566 Z" fill="#151515" />
<path d="M150.5,559.5 h0.8 M160.3,555.1 h0.8 M151.5,561.6 h0.8 M164.0,555.8 h0.8 M157.6,550.0 h0.8 M147.1,552.8 h0.8 M159.3,546.5 h0.8 M163.7,549.9 h0.8 M151.9,545.9 h0.8 M167.9,560.5 h0.8 M165.4,557.9 h0.8 M147.7,551.9 h0.8 M157.4,547.4 h0.8 M167.0,552.7 h0.8 M150.3,562.2 h0.8 M149.6,564.5 h0.8 M156.5,556.6 h0.8 M154.2,555.2 h0.8 M150.9,545.8 h0.8 M165.2,549.9 h0.8 M163.4,549.4 h0.8 M167.3,563.8 h0.8 M162.9,561.0 h0.8 M159.2,560.3 h0.8 M149.6,555.0 h0.8 M164.4,549.2 h0.8 M166.4,563.6 h0.8 M155.6,552.7 h0.8 M156.5,553.1 h0.8 M167.9,553.1 h0.8 M147.6,547.0 h0.8 M162.1,565.8 h0.8 M157.4,555.3 h0.8 M158.6,560.7 h0.8 M151.7,557.8 h0.8 M158.7,558.1 h0.8 M150.8,548.6 h0.8 M154.3,564.5 h0.8 M154.3,557.5 h0.8 M153.4,547.2 h0.8 " fill="none" stroke="#888" stroke-width="0.8" />
<path d="M150.6,566 C150.6,558 152.2,551 156.4,549.2 C160,548.2 162.8,551.5 163.6,558 L163.8,566 Z" fill="#cfcfcf" />
<path d="M152.8,566 C152.8,560 154,555.5 156.6,554.2 C158.8,554 160.6,557 161,561 L161.2,566 Z" fill="#888" />
<path d="M154.2,566 V557.5 M156.8,566 V556 M159.4,566 V557.5" fill="none" stroke="#0a0a0a" stroke-width="1.3" />
<path d="M189.2,527 C191,526.5 192.5,527.5 192,531 C192.5,534.5 191,535.5 189.2,535 Z" fill="#222" />
<ellipse cx="198.4" cy="531" rx="8" ry="4.6" fill="#0a0a0a"/>
<ellipse cx="198.6" cy="531" rx="5.8" ry="2.9" fill="#e0e0e0"/>
<ellipse cx="197.3" cy="531.1" rx="2.8" ry="1.2" fill="#222"/>
<path d="M194.3,535.7 h0.8 M196.7,536.0 h0.8 M201.3,533.3 h0.8 M190.2,537.2 h0.8 M194.7,534.2 h0.8 M207.9,535.4 h0.8 M205.1,535.4 h0.8 M201.5,533.8 h0.8 M201.4,537.3 h0.8 M199.4,536.7 h0.8 M202.1,533.3 h0.8 M203.6,536.0 h0.8 M195.4,533.2 h0.8 M205.6,535.4 h0.8 M202.9,537.4 h0.8 M202.9,537.6 h0.8 M197.1,537.0 h0.8 M198.0,537.7 h0.8 " fill="none" stroke="#555" stroke-width="0.8" />
<path d="M188.80,517.80 H208.60 V538.00 C200.68,539.60 194.74,538.60 188.80,538.60 Z" fill="none" stroke="#7d7fae" stroke-width="0.8" />
<text x="192.30" y="525.00" font-size="7.2" fill="#222" color="#222" stroke-width="0.1" textLength="13.80" lengthAdjust="spacingAndGlyphs">30.1</text>
<path d="M206.90,566.10 V542.20 Q206.90,540.70 209.90,540.70 H238.70 V566.10" fill="none" stroke="#7d7fae" stroke-width="0.8" />
<path d="M208.5,566 C208,557 210.5,546 219,543.5 C226,541.5 233,545 235,552 C236,558 235,563 234.5,566 Z" fill="#262626" />
<path d="M214.6,544.5 h0.8 M219.1,545.7 h0.8 M209.9,551.6 h0.8 M233.7,561.2 h0.8 M229.4,547.3 h0.8 M223.0,548.6 h0.8 M212.8,544.5 h0.8 M214.0,564.3 h0.8 M231.2,561.4 h0.8 M230.4,546.6 h0.8 M216.7,557.0 h0.8 M228.5,562.5 h0.8 M232.6,544.1 h0.8 M225.0,558.1 h0.8 M222.2,546.3 h0.8 M221.3,544.1 h0.8 M234.2,562.8 h0.8 M223.3,549.2 h0.8 M233.4,555.7 h0.8 M232.7,562.4 h0.8 M222.2,551.9 h0.8 M224.8,552.3 h0.8 M212.5,549.3 h0.8 M230.8,543.0 h0.8 M209.3,557.0 h0.8 M215.9,554.8 h0.8 M221.2,550.2 h0.8 M235.9,546.7 h0.8 M219.6,546.9 h0.8 M225.7,548.6 h0.8 M218.0,559.9 h0.8 M217.0,555.4 h0.8 M233.3,544.4 h0.8 M209.7,547.5 h0.8 M229.4,556.8 h0.8 M214.6,549.9 h0.8 M213.0,553.0 h0.8 M209.2,558.7 h0.8 M233.1,564.9 h0.8 M228.6,565.0 h0.8 M208.5,548.9 h0.8 M235.0,560.6 h0.8 M219.5,564.6 h0.8 M225.4,561.6 h0.8 M216.2,546.6 h0.8 M220.4,545.3 h0.8 M218.7,565.1 h0.8 M217.3,542.2 h0.8 M209.3,546.1 h0.8 M229.9,550.7 h0.8 M216.1,544.3 h0.8 M235.5,552.2 h0.8 M213.8,543.4 h0.8 M209.5,546.0 h0.8 M227.0,545.6 h0.8 M209.1,553.8 h0.8 M215.0,565.9 h0.8 M211.4,554.7 h0.8 M229.7,551.8 h0.8 M235.7,553.5 h0.8 M214.8,551.9 h0.8 M209.0,552.1 h0.8 M215.0,563.3 h0.8 M231.3,554.0 h0.8 M208.9,548.1 h0.8 M214.8,547.0 h0.8 M214.5,562.9 h0.8 M212.0,543.2 h0.8 M234.0,555.6 h0.8 M235.7,551.7 h0.8 M233.2,557.7 h0.8 M230.1,559.9 h0.8 M221.8,544.2 h0.8 M213.9,563.0 h0.8 M233.2,564.2 h0.8 M217.4,557.8 h0.8 M230.4,557.4 h0.8 M230.8,554.7 h0.8 M226.3,558.5 h0.8 M215.5,564.1 h0.8 M234.8,543.8 h0.8 M235.2,565.1 h0.8 M226.7,543.1 h0.8 M233.2,545.1 h0.8 M235.1,558.0 h0.8 M209.7,546.0 h0.8 M225.8,555.7 h0.8 M228.9,564.3 h0.8 M214.1,542.1 h0.8 M233.8,542.3 h0.8 M232.5,544.8 h0.8 M230.7,560.8 h0.8 M232.6,555.2 h0.8 M232.6,546.8 h0.8 M226.8,549.9 h0.8 M233.0,560.6 h0.8 M221.2,554.6 h0.8 M208.7,542.8 h0.8 M224.6,553.7 h0.8 M232.2,556.6 h0.8 M211.9,550.7 h0.8 M229.5,554.6 h0.8 M208.3,562.1 h0.8 M231.2,544.0 h0.8 M223.2,551.1 h0.8 M230.0,549.5 h0.8 M214.5,553.7 h0.8 M235.1,544.3 h0.8 M211.2,556.9 h0.8 M232.8,554.3 h0.8 M220.2,562.6 h0.8 M229.7,543.6 h0.8 M232.7,546.7 h0.8 M216.5,562.1 h0.8 M219.8,561.2 h0.8 M212.7,563.0 h0.8 M212.9,545.6 h0.8 M221.8,550.1 h0.8 M223.2,563.7 h0.8 M227.9,542.1 h0.8 M216.7,555.1 h0.8 M221.6,559.2 h0.8 M221.6,543.8 h0.8 M214.9,562.3 h0.8 M218.0,560.4 h0.8 M235.6,557.0 h0.8 M226.9,556.6 h0.8 M216.8,563.9 h0.8 M221.1,563.9 h0.8 M216.6,562.8 h0.8 M230.0,556.7 h0.8 M220.4,545.4 h0.8 M229.6,550.7 h0.8 M226.5,545.2 h0.8 M210.3,545.5 h0.8 M230.7,546.3 h0.8 M233.3,550.9 h0.8 M224.1,550.4 h0.8 M225.4,544.2 h0.8 M219.3,564.5 h0.8 " fill="none" stroke="#9a9a9a" stroke-width="0.8" />
<path d="M214,566 C213,558 215.5,548 222,545.5 C227,544.5 230,549 230,555 C230,559 229.5,563 229,566 Z" fill="#e2e2e2" />
<path d="M218.5,566 C218,560 219.5,555 222,554 C224.5,555 225.5,560 225.5,566 Z" fill="#8a8a8a" />
<path d="M220.5,566 V557 M223.3,566 V556" fill="none" stroke="#111" stroke-width="1.1" />
<path d="M259,535 C261,529 266,529 269,531.5 C271,533 273,533.5 274,533 C272.5,536 268,536.5 265,535.5 C262,536.5 260,536.5 259,535 Z" fill="#111" />
<ellipse cx="261" cy="533" rx="2.2" ry="1.6" fill="#e8e8e8"/>
<path d="M254.80,517.50 H274.20 V538.00 C266.44,539.60 260.62,538.60 254.80,538.60 Z" fill="none" stroke="#7d7fae" stroke-width="0.8" />
<text x="257.70" y="525.00" font-size="7.2" fill="#222" color="#222" stroke-width="0.1" textLength="13.30" lengthAdjust="spacingAndGlyphs">2.56</text>
<path d="M276.40,566.10 V542.40 Q276.40,540.90 279.40,540.90 H308.50 V566.10" fill="none" stroke="#7d7fae" stroke-width="0.8" />
<path d="M279.5,566 C278.5,557 281,548 288,545 C294,543.5 300,543.5 302,546 C303,552 301,560 299.5,566 Z" fill="#262626" />
<path d="M293.9,560.1 h0.8 M298.1,564.7 h0.8 M296.8,564.2 h0.8 M279.7,553.7 h0.8 M301.6,557.9 h0.8 M300.6,545.6 h0.8 M290.3,548.7 h0.8 M292.1,556.2 h0.8 M279.3,548.0 h0.8 M285.7,564.1 h0.8 M297.4,546.7 h0.8 M298.1,546.2 h0.8 M293.8,545.9 h0.8 M279.0,563.0 h0.8 M284.0,548.0 h0.8 M302.6,563.1 h0.8 M285.9,565.1 h0.8 M291.9,558.6 h0.8 M283.9,564.6 h0.8 M295.6,565.2 h0.8 M300.4,549.9 h0.8 M287.7,546.8 h0.8 M282.5,544.5 h0.8 M286.2,556.9 h0.8 M279.1,558.6 h0.8 M287.1,550.1 h0.8 M298.6,554.1 h0.8 M286.6,554.1 h0.8 M295.9,544.3 h0.8 M302.4,543.5 h0.8 M297.0,562.4 h0.8 M279.4,561.1 h0.8 M287.8,556.3 h0.8 M279.2,544.1 h0.8 M283.3,565.0 h0.8 M283.7,560.4 h0.8 M301.3,564.7 h0.8 M287.3,551.2 h0.8 M291.6,560.8 h0.8 M281.6,560.2 h0.8 M298.1,562.8 h0.8 M279.9,564.8 h0.8 M281.2,550.8 h0.8 M293.7,564.1 h0.8 M287.2,564.3 h0.8 M292.1,550.2 h0.8 M286.6,547.1 h0.8 M280.9,546.4 h0.8 M295.5,565.9 h0.8 M282.9,544.1 h0.8 M302.7,555.3 h0.8 M288.7,548.5 h0.8 M293.3,562.0 h0.8 M289.9,552.7 h0.8 M280.3,564.1 h0.8 M279.8,554.4 h0.8 M299.1,546.0 h0.8 M296.6,564.8 h0.8 M294.1,561.1 h0.8 M281.6,553.0 h0.8 M282.6,562.4 h0.8 M286.1,553.4 h0.8 M303.0,562.6 h0.8 M302.4,553.4 h0.8 M290.7,559.8 h0.8 M290.5,549.7 h0.8 M288.7,546.4 h0.8 M288.0,565.7 h0.8 M302.0,557.4 h0.8 M291.0,550.8 h0.8 M281.1,549.3 h0.8 M297.8,562.9 h0.8 M287.7,561.1 h0.8 M297.6,559.0 h0.8 M294.9,560.5 h0.8 M287.7,559.2 h0.8 M285.7,554.2 h0.8 M297.5,558.9 h0.8 M286.1,564.7 h0.8 M294.6,556.4 h0.8 M279.3,555.6 h0.8 M285.0,558.4 h0.8 M290.1,561.8 h0.8 M294.5,561.3 h0.8 M287.3,557.8 h0.8 M296.7,562.0 h0.8 M287.4,562.4 h0.8 M299.9,558.8 h0.8 M302.4,565.0 h0.8 M291.4,555.2 h0.8 M283.0,562.2 h0.8 M301.5,554.0 h0.8 M295.6,559.6 h0.8 M296.5,547.0 h0.8 M297.7,556.4 h0.8 M295.0,552.7 h0.8 M294.0,560.8 h0.8 M294.3,559.6 h0.8 M279.7,546.7 h0.8 M289.6,558.0 h0.8 M284.3,558.8 h0.8 M294.1,544.0 h0.8 M290.3,548.2 h0.8 M280.3,546.1 h0.8 M286.6,547.2 h0.8 M283.6,543.8 h0.8 M290.2,551.7 h0.8 M293.7,556.6 h0.8 M284.7,563.8 h0.8 M279.0,552.3 h0.8 M285.7,552.4 h0.8 M281.8,562.1 h0.8 M288.0,543.8 h0.8 M293.7,545.2 h0.8 M292.1,550.8 h0.8 M292.9,565.0 h0.8 M298.6,552.6 h0.8 M298.5,557.8 h0.8 M287.9,546.3 h0.8 M293.3,556.0 h0.8 " fill="none" stroke="#9a9a9a" stroke-width="0.8" />
<path d="M282.5,566 C282,558 284.5,550 290,548.5 C295,548 297.5,552 297,558 C296.5,562 296,564 295.5,566 Z" fill="#a8a8a8" />
<ellipse cx="289" cy="557.5" rx="4.6" ry="5.2" fill="#101010"/>
<ellipse cx="289.3" cy="558" rx="1.2" ry="1.8" fill="#666"/>
<path d="M124.40,575.10 H148.20 V595.70 C138.68,597.30 131.54,598.50 124.40,598.50 Z" fill="none" stroke="#7d7fae" stroke-width="0.8" />
<path d="M128.4,583.1 h0.7 M127.9,595.8 h0.7 M132.0,590.0 h0.7 M131.4,587.7 h0.7 M143.6,588.1 h0.7 M128.4,587.2 h0.7 M140.1,592.2 h0.7 M141.6,588.7 h0.7 M145.1,591.9 h0.7 M137.1,588.4 h0.7 M138.1,585.4 h0.7 M140.6,583.0 h0.7 M135.2,595.0 h0.7 M145.6,585.1 h0.7 M135.3,594.4 h0.7 M141.8,594.9 h0.7 M137.6,594.0 h0.7 M133.3,585.9 h0.7 M136.2,583.3 h0.7 M135.2,594.8 h0.7 M127.6,589.9 h0.7 M138.5,593.7 h0.7 M140.2,584.2 h0.7 M127.1,591.2 h0.7 M131.3,587.4 h0.7 M145.9,593.6 h0.7 M133.0,591.3 h0.7 M131.2,584.7 h0.7 " fill="none" stroke="#999" stroke-width="0.7" />
<text x="126.50" y="582.40" font-size="6.8" fill="#333" color="#333" stroke-width="0.08" textLength="17.00" lengthAdjust="spacingAndGlyphs">0.007</text>
<path d="M145.40,620.20 V598.40 Q145.40,596.90 148.40,596.90 H173.30 V620.20" fill="none" stroke="#7d7fae" stroke-width="0.8" />
<path d="M147.5,620.10 L147.5,600.90 C149,599.40 152,598.90 156,598.90 L171,598.70 C169.5,606.90 167.5,613.90 166,620.10 Z" fill="#050505" />
<path d="M149.6,619.90 C149.4,610.90 150,603.90 152,600.90 M166.2,619.90 C167.5,612.90 168.5,605.90 169.6,600.40" fill="none" stroke="#4a4a4a" stroke-width="0.6" />
<path d="M151.2,620.00 C151,612.90 151.6,604.90 154.5,602.40 C157,600.70 161.5,601.40 163.2,604.40 C164,608.90 163.8,614.90 163.5,620.00" fill="#5a5a5a" stroke="#e2e2e2" stroke-width="1.0" />
<path d="M154.2,620.00 C154.2,613.90 154.8,608.40 157.2,606.40 C159.2,606.90 160.6,609.90 160.8,613.90 L160.9,620.00" fill="#1a1a1a" stroke="#cfcfcf" stroke-width="0.9" />
<path d="M157.4,619.90 V610.90" fill="none" stroke="#999" stroke-width="0.9" />
<path d="M188.80,572.50 H208.60 V593.90 C200.68,595.50 194.74,594.30 188.80,594.30 Z" fill="none" stroke="#7d7fae" stroke-width="0.8" />
<path d="M193.4,591.3 h0.7 M200.9,585.9 h0.7 M201.6,581.6 h0.7 M205.4,583.0 h0.7 M206.6,583.1 h0.7 M199.7,590.1 h0.7 M195.2,588.8 h0.7 M198.8,590.6 h0.7 M200.9,592.3 h0.7 M195.5,584.8 h0.7 M191.6,585.6 h0.7 M191.8,592.6 h0.7 M205.5,588.1 h0.7 M196.0,589.7 h0.7 M202.2,583.1 h0.7 M201.4,582.6 h0.7 M198.9,583.7 h0.7 M202.1,586.5 h0.7 M192.4,587.7 h0.7 M203.7,592.9 h0.7 M192.1,582.0 h0.7 M191.1,587.3 h0.7 M201.5,583.7 h0.7 M197.6,582.0 h0.7 M201.0,581.7 h0.7 " fill="none" stroke="#999" stroke-width="0.7" />
<text x="194.20" y="579.50" font-size="6.8" fill="#333" color="#333" stroke-width="0.08" textLength="21.20" lengthAdjust="spacingAndGlyphs">0.0026</text>
<path d="M206.90,620.20 V596.20 Q206.90,594.70 209.90,594.70 H238.70 V620.20" fill="none" stroke="#7d7fae" stroke-width="0.8" />
<path d="M208.3,620.10 L208.3,599.90 C209,597.40 212,596.60 216,596.60 L236.2,596.60 L236,620.10 Z" fill="#050505" />
<ellipse cx="220.4" cy="609.50" rx="9.6" ry="11.4" fill="none" stroke="#484848" stroke-width="0.6"/>
<ellipse cx="220.4" cy="609.90" rx="6.6" ry="8.6" fill="#8a8a8a" stroke="#e0e0e0" stroke-width="1.2"/>
<ellipse cx="220.5" cy="610.70" rx="3.8" ry="6.2" fill="none" stroke="#d0d0d0" stroke-width="0.8"/>
<ellipse cx="220.6" cy="610.90" rx="1.8" ry="4.4" fill="#222"/>
<ellipse cx="212.4" cy="599.40" rx="2.6" ry="1.6" fill="#ddd"/>
<path d="M254.80,572.50 H274.60 V592.70 C266.68,594.30 260.74,593.30 254.80,593.30 Z" fill="none" stroke="#7d7fae" stroke-width="0.8" />
<path d="M272.1,585.3 h0.7 M261.1,587.6 h0.7 M261.2,586.2 h0.7 M268.9,582.5 h0.7 M269.3,582.5 h0.7 M260.7,589.8 h0.7 M268.2,587.6 h0.7 M262.7,585.6 h0.7 M260.7,587.2 h0.7 M271.9,582.5 h0.7 M262.7,590.2 h0.7 M272.9,583.3 h0.7 M265.2,582.1 h0.7 M267.9,582.0 h0.7 M262.3,590.2 h0.7 M272.0,584.1 h0.7 M271.0,588.9 h0.7 M259.2,584.0 h0.7 M263.9,581.7 h0.7 M259.8,581.7 h0.7 " fill="none" stroke="#999" stroke-width="0.7" />
<text x="259.60" y="579.50" font-size="6.8" fill="#333" color="#333" stroke-width="0.08" textLength="21.20" lengthAdjust="spacingAndGlyphs">0.0012</text>
<path d="M277.40,620.20 V597.70 Q277.40,596.20 280.40,596.20 H309.70 V620.20" fill="none" stroke="#7d7fae" stroke-width="0.8" />
<path d="M279,620.10 L279,600.40 C280,599.20 282,599.10 285,599.10 L304.2,598.50 C303.5,606.90 302.5,613.90 302,620.10 Z" fill="#050505" />
<path d="M286.6,620.00 C286.4,612.90 286.6,605.90 288,603.40 C290,601.40 296,601.40 298,602.40 C298,608.90 297,614.90 296.5,620.00" fill="#6a6a6a" stroke="#e6e6e6" stroke-width="1.1" />
<path d="M290.5,619.90 V608.90 M293.5,619.90 V606.90" fill="none" stroke="#222" stroke-width="1" />
<path d="M283.2,619.90 C283,612.90 283.4,604.90 285,601.40 M300.2,619.90 C300.8,612.90 301.3,606.90 302,600.90" fill="none" stroke="#4a4a4a" stroke-width="0.6" />
<path d="M124.40,629.10 H148.20 V649.70 C138.68,651.30 131.54,652.50 124.40,652.50 Z" fill="none" stroke="#7d7fae" stroke-width="0.8" />
<path d="M130.6,637.3 h0.7 M131.1,644.4 h0.7 M132.2,640.9 h0.7 M138.2,645.4 h0.7 M143.6,641.0 h0.7 M138.7,645.6 h0.7 M145.1,647.0 h0.7 M142.7,646.6 h0.7 M128.0,643.5 h0.7 M144.4,644.6 h0.7 M142.8,640.7 h0.7 M138.7,645.1 h0.7 M131.7,637.8 h0.7 M144.1,639.0 h0.7 M138.6,641.3 h0.7 M144.8,648.0 h0.7 M141.4,649.2 h0.7 M145.5,637.4 h0.7 M130.1,639.0 h0.7 M132.0,642.9 h0.7 M131.8,641.1 h0.7 M132.4,642.7 h0.7 M127.5,647.2 h0.7 M144.1,642.4 h0.7 M143.7,649.6 h0.7 M136.0,649.1 h0.7 M143.7,643.0 h0.7 M135.4,649.3 h0.7 M133.2,647.7 h0.7 M141.4,649.1 h0.7 M129.3,644.0 h0.7 M139.6,648.6 h0.7 M143.2,646.9 h0.7 M143.7,646.8 h0.7 M128.8,640.4 h0.7 M137.4,639.2 h0.7 M142.1,643.2 h0.7 M130.9,637.0 h0.7 M131.3,644.3 h0.7 M145.1,640.3 h0.7 M141.6,648.7 h0.7 M134.8,645.8 h0.7 M127.6,647.1 h0.7 M134.9,637.6 h0.7 M134.1,638.2 h0.7 " fill="none" stroke="#999" stroke-width="0.7" />
<text x="126.50" y="636.40" font-size="6.8" fill="#333" color="#333" stroke-width="0.08" textLength="17.20" lengthAdjust="spacingAndGlyphs">0.021</text>
<path d="M145.40,674.10 V652.40 Q145.40,650.90 148.40,650.90 H173.30 V674.10" fill="none" stroke="#7d7fae" stroke-width="0.8" />
<path d="M147.5,674.00 L147.5,654.90 C149,653.40 152,652.90 156,652.90 L171,652.70 C169.5,660.90 167.5,667.90 166,674.00 Z" fill="#050505" />
<path d="M149.6,673.80 C149.4,664.90 150,657.90 152,654.90 M166.2,673.80 C167.5,666.90 168.5,659.90 169.6,654.40" fill="none" stroke="#4a4a4a" stroke-width="0.6" />
<path d="M151.2,673.90 C151,666.90 151.6,658.90 154.5,656.40 C157,654.70 161.5,655.40 163.2,658.40 C164,662.90 163.8,668.90 163.5,673.90" fill="#5a5a5a" stroke="#e2e2e2" stroke-width="1.0" />
<path d="M154.2,673.90 C154.2,667.90 154.8,662.40 157.2,660.40 C159.2,660.90 160.6,663.90 160.8,667.90 L160.9,673.90" fill="#1a1a1a" stroke="#cfcfcf" stroke-width="0.9" />
<path d="M157.4,673.80 V664.90" fill="none" stroke="#999" stroke-width="0.9" />
<path d="M188.80,626.50 H208.60 V647.90 C200.68,649.50 194.74,648.30 188.80,648.30 Z" fill="none" stroke="#7d7fae" stroke-width="0.8" />
<path d="M207.0,637.9 h0.7 M200.7,636.0 h0.7 M197.5,640.7 h0.7 M192.7,639.0 h0.7 M206.9,646.8 h0.7 M202.7,644.5 h0.7 M200.3,635.7 h0.7 M194.7,646.4 h0.7 M194.5,636.9 h0.7 M198.9,640.2 h0.7 M205.8,640.8 h0.7 M193.6,636.0 h0.7 M197.2,641.3 h0.7 M192.1,642.9 h0.7 M198.7,642.4 h0.7 M203.4,643.1 h0.7 M202.3,643.8 h0.7 M204.1,646.6 h0.7 M203.5,640.6 h0.7 M205.4,645.4 h0.7 M191.7,645.1 h0.7 M198.6,637.0 h0.7 M200.9,643.0 h0.7 M205.3,638.1 h0.7 M196.8,638.2 h0.7 " fill="none" stroke="#999" stroke-width="0.7" />
<text x="194.20" y="633.50" font-size="6.8" fill="#333" color="#333" stroke-width="0.08" textLength="21.20" lengthAdjust="spacingAndGlyphs">0.0020</text>
<path d="M206.90,674.10 V650.20 Q206.90,648.70 209.90,648.70 H238.70 V674.10" fill="none" stroke="#7d7fae" stroke-width="0.8" />
<path d="M208.3,674.00 L208.3,653.90 C209,651.40 212,650.60 216,650.60 L236.2,650.60 L236,674.00 Z" fill="#050505" />
<ellipse cx="220.4" cy="663.50" rx="9.6" ry="11.4" fill="none" stroke="#484848" stroke-width="0.6"/>
<ellipse cx="220.4" cy="663.90" rx="6.6" ry="8.6" fill="#8a8a8a" stroke="#e0e0e0" stroke-width="1.2"/>
<ellipse cx="220.5" cy="664.70" rx="3.8" ry="6.2" fill="none" stroke="#d0d0d0" stroke-width="0.8"/>
<ellipse cx="220.6" cy="664.90" rx="1.8" ry="4.4" fill="#222"/>
<ellipse cx="212.4" cy="653.40" rx="2.6" ry="1.6" fill="#ddd"/>
<path d="M254.80,626.50 H274.60 V646.70 C266.68,648.30 260.74,647.30 254.80,647.30 Z" fill="none" stroke="#7d7fae" stroke-width="0.8" />
<path d="M262.8,636.2 h0.7 M257.3,636.4 h0.7 M269.3,640.4 h0.7 M263.2,644.7 h0.7 M260.4,642.6 h0.7 M269.9,644.0 h0.7 M266.7,644.5 h0.7 M269.0,645.9 h0.7 M270.1,642.4 h0.7 M267.5,635.8 h0.7 M258.1,640.2 h0.7 M262.8,643.1 h0.7 M272.4,640.4 h0.7 M260.2,644.4 h0.7 M271.4,645.5 h0.7 M271.2,635.0 h0.7 M270.1,643.9 h0.7 M264.3,640.3 h0.7 M266.0,638.0 h0.7 M271.1,645.2 h0.7 " fill="none" stroke="#999" stroke-width="0.7" />
<text x="259.60" y="633.50" font-size="6.8" fill="#333" color="#333" stroke-width="0.08" textLength="21.20" lengthAdjust="spacingAndGlyphs">0.0011</text>
<path d="M277.40,674.10 V651.70 Q277.40,650.20 280.40,650.20 H309.70 V674.10" fill="none" stroke="#7d7fae" stroke-width="0.8" />
<path d="M279,674.00 L279,654.40 C280,653.20 282,653.10 285,653.10 L304.2,652.50 C303.5,660.90 302.5,667.90 302,674.00 Z" fill="#050505" />
<path d="M286.6,673.90 C286.4,666.90 286.6,659.90 288,657.40 C290,655.40 296,655.40 298,656.40 C298,662.90 297,668.90 296.5,673.90" fill="#6a6a6a" stroke="#e6e6e6" stroke-width="1.1" />
<path d="M290.5,673.80 V662.90 M293.5,673.80 V660.90" fill="none" stroke="#222" stroke-width="1" />
<path d="M283.2,673.80 C283,666.90 283.4,658.90 285,655.40 M300.2,673.80 C300.8,666.90 301.3,660.90 302,654.90" fill="none" stroke="#4a4a4a" stroke-width="0.6" />
<text x="335.40" y="460.00" font-size="11.6" font-weight="bold" fill="#000" color="#000" stroke-width="0.05">G</text>
<line x1="353.10" y1="485.90" x2="353.10" y2="651.90" stroke="#000" stroke-width="1.6" />
<path d="M350.30,486.40 L353.10,480.20 L355.90,486.40 Z" fill="#000" />
<text x="347.40" y="623.40" font-size="8.8" font-weight="bold" fill="#1a1a1a" color="#1a1a1a" stroke-width="0.18" textLength="108.70" lengthAdjust="spacingAndGlyphs" transform="rotate(-90 347.40 623.40)">% CD45.1<tspan dy="-3.0" font-size="5.6">+</tspan><tspan dy="3.0"> AML cell of total MNCs</tspan></text>
<line x1="383.50" y1="492.40" x2="383.50" y2="557.20" stroke="#000" stroke-width="1.5" />
<line x1="382.80" y1="556.50" x2="437.70" y2="556.50" stroke="#000" stroke-width="1.5" />
<line x1="380.10" y1="556.50" x2="383.50" y2="556.50" stroke="#000" stroke-width="1.3" />
<text x="377.70" y="559.30" font-size="7.6" text-anchor="end" fill="#333" color="#333" stroke-width="0.16" textLength="16.40" lengthAdjust="spacingAndGlyphs">0.00</text>
<line x1="380.10" y1="535.87" x2="383.50" y2="535.87" stroke="#000" stroke-width="1.3" />
<text x="377.70" y="538.67" font-size="7.6" text-anchor="end" fill="#333" color="#333" stroke-width="0.16" textLength="16.40" lengthAdjust="spacingAndGlyphs">0.02</text>
<line x1="380.10" y1="515.23" x2="383.50" y2="515.23" stroke="#000" stroke-width="1.3" />
<text x="377.70" y="518.03" font-size="7.6" text-anchor="end" fill="#333" color="#333" stroke-width="0.16" textLength="16.40" lengthAdjust="spacingAndGlyphs">0.04</text>
<line x1="380.10" y1="494.60" x2="383.50" y2="494.60" stroke="#000" stroke-width="1.3" />
<text x="377.70" y="497.40" font-size="7.6" text-anchor="end" fill="#333" color="#333" stroke-width="0.16" textLength="16.40" lengthAdjust="spacingAndGlyphs">0.06</text>
<line x1="398.30" y1="556.50" x2="398.30" y2="559.00" stroke="#000" stroke-width="1.2" />
<line x1="426.20" y1="556.50" x2="426.20" y2="559.00" stroke="#000" stroke-width="1.2" />
<text x="398.80" y="485.70" font-size="9.2" fill="#231f20" color="#231f20" stroke-width="0.16" textLength="25.40" lengthAdjust="spacingAndGlyphs">Blood</text>
<text x="394.40" y="500.80" font-size="7.6" fill="#9a3a5c" color="#9a3a5c" stroke-width="0.06" textLength="33.30" lengthAdjust="spacingAndGlyphs"><tspan font-style="italic">p</tspan> = 0.016</text>
<circle cx="391.90" cy="546.00" r="1.75" fill="#fff" stroke="#000" stroke-width="1.1"/>
<circle cx="395.00" cy="548.50" r="1.75" fill="#fff" stroke="#000" stroke-width="1.1"/>
<circle cx="398.30" cy="551.20" r="1.75" fill="#fff" stroke="#000" stroke-width="1.1"/>
<circle cx="401.50" cy="551.20" r="1.75" fill="#fff" stroke="#000" stroke-width="1.1"/>
<circle cx="405.00" cy="548.50" r="1.75" fill="#fff" stroke="#000" stroke-width="1.1"/>
<line x1="389.20" y1="548.80" x2="407.30" y2="548.80" stroke="#000" stroke-width="1.3" />
<circle cx="426.20" cy="510.00" r="1.95" fill="#000"/>
<circle cx="426.20" cy="535.00" r="1.95" fill="#000"/>
<circle cx="423.30" cy="543.50" r="1.95" fill="#000"/>
<circle cx="429.60" cy="543.50" r="1.95" fill="#000"/>
<line x1="416.90" y1="533.10" x2="435.80" y2="533.10" stroke="#000" stroke-width="1.3" />
<line x1="383.80" y1="582.40" x2="383.80" y2="647.70" stroke="#000" stroke-width="1.5" />
<line x1="383.10" y1="647.00" x2="432.30" y2="647.00" stroke="#000" stroke-width="1.5" />
<line x1="380.40" y1="647.00" x2="383.80" y2="647.00" stroke="#000" stroke-width="1.3" />
<text x="377.10" y="649.80" font-size="7.6" text-anchor="end" fill="#333" color="#333" stroke-width="0.16" textLength="21.10" lengthAdjust="spacingAndGlyphs">0.000</text>
<line x1="380.40" y1="616.00" x2="383.80" y2="616.00" stroke="#000" stroke-width="1.3" />
<text x="377.10" y="618.80" font-size="7.6" text-anchor="end" fill="#333" color="#333" stroke-width="0.16" textLength="21.10" lengthAdjust="spacingAndGlyphs">0.005</text>
<line x1="380.40" y1="585.00" x2="383.80" y2="585.00" stroke="#000" stroke-width="1.3" />
<text x="377.10" y="587.80" font-size="7.6" text-anchor="end" fill="#333" color="#333" stroke-width="0.16" textLength="21.10" lengthAdjust="spacingAndGlyphs">0.010</text>
<line x1="396.30" y1="647.00" x2="396.30" y2="649.50" stroke="#000" stroke-width="1.2" />
<line x1="421.80" y1="647.00" x2="421.80" y2="649.50" stroke="#000" stroke-width="1.2" />
<text x="400.20" y="576.90" font-size="9.2" fill="#231f20" color="#231f20" stroke-width="0.16" textLength="16.30" lengthAdjust="spacingAndGlyphs">BM</text>
<text x="388.70" y="592.30" font-size="7.6" fill="#222" color="#222" stroke-width="0.06" textLength="33.20" lengthAdjust="spacingAndGlyphs"><tspan font-style="italic">p</tspan> = 0.237</text>
<circle cx="396.30" cy="615.40" r="1.75" fill="#fff" stroke="#000" stroke-width="1.1"/>
<circle cx="391.30" cy="629.40" r="1.75" fill="#fff" stroke="#000" stroke-width="1.1"/>
<circle cx="396.30" cy="631.40" r="1.75" fill="#fff" stroke="#000" stroke-width="1.1"/>
<circle cx="401.50" cy="626.90" r="1.75" fill="#fff" stroke="#000" stroke-width="1.1"/>
<circle cx="396.30" cy="638.50" r="1.75" fill="#fff" stroke="#000" stroke-width="1.1"/>
<line x1="387.30" y1="628.30" x2="406.00" y2="628.30" stroke="#000" stroke-width="1.3" />
<circle cx="418.80" cy="631.50" r="1.95" fill="#000"/>
<circle cx="418.80" cy="638.20" r="1.95" fill="#000"/>
<circle cx="424.00" cy="634.80" r="1.95" fill="#000"/>
<circle cx="426.80" cy="631.50" r="1.95" fill="#000"/>
<line x1="412.20" y1="634.20" x2="430.50" y2="634.20" stroke="#000" stroke-width="1.3" />
<line x1="468.10" y1="582.80" x2="468.10" y2="647.90" stroke="#000" stroke-width="1.5" />
<line x1="467.40" y1="647.20" x2="512.60" y2="647.20" stroke="#000" stroke-width="1.5" />
<line x1="464.70" y1="647.20" x2="468.10" y2="647.20" stroke="#000" stroke-width="1.3" />
<text x="461.20" y="650.00" font-size="7.6" text-anchor="end" fill="#333" color="#333" stroke-width="0.16" textLength="21.50" lengthAdjust="spacingAndGlyphs">0.000</text>
<line x1="464.70" y1="626.43" x2="468.10" y2="626.43" stroke="#000" stroke-width="1.3" />
<text x="461.20" y="629.23" font-size="7.6" text-anchor="end" fill="#333" color="#333" stroke-width="0.16" textLength="21.50" lengthAdjust="spacingAndGlyphs">0.002</text>
<line x1="464.70" y1="605.67" x2="468.10" y2="605.67" stroke="#000" stroke-width="1.3" />
<text x="461.20" y="608.47" font-size="7.6" text-anchor="end" fill="#333" color="#333" stroke-width="0.16" textLength="21.50" lengthAdjust="spacingAndGlyphs">0.004</text>
<line x1="464.70" y1="584.90" x2="468.10" y2="584.90" stroke="#000" stroke-width="1.3" />
<text x="461.20" y="587.70" font-size="7.6" text-anchor="end" fill="#333" color="#333" stroke-width="0.16" textLength="21.50" lengthAdjust="spacingAndGlyphs">0.006</text>
<line x1="479.20" y1="647.20" x2="479.20" y2="649.70" stroke="#000" stroke-width="1.2" />
<line x1="502.70" y1="647.20" x2="502.70" y2="649.70" stroke="#000" stroke-width="1.2" />
<text x="475.00" y="576.60" font-size="9.2" fill="#231f20" color="#231f20" stroke-width="0.16" textLength="30.00" lengthAdjust="spacingAndGlyphs">Spleen</text>
<text x="475.00" y="592.80" font-size="7.6" fill="#222" color="#222" stroke-width="0.06" textLength="35.30" lengthAdjust="spacingAndGlyphs"><tspan font-style="italic">p</tspan> = 0.350</text>
<circle cx="479.50" cy="620.30" r="1.75" fill="#fff" stroke="#000" stroke-width="1.1"/>
<circle cx="479.50" cy="627.30" r="1.75" fill="#fff" stroke="#000" stroke-width="1.1"/>
<circle cx="474.30" cy="634.90" r="1.75" fill="#fff" stroke="#000" stroke-width="1.1"/>
<circle cx="479.20" cy="638.70" r="1.75" fill="#fff" stroke="#000" stroke-width="1.1"/>
<circle cx="484.60" cy="638.70" r="1.75" fill="#fff" stroke="#000" stroke-width="1.1"/>
<line x1="470.30" y1="632.20" x2="488.60" y2="632.20" stroke="#000" stroke-width="1.3" />
<circle cx="503.10" cy="631.20" r="1.95" fill="#000"/>
<circle cx="497.70" cy="636.30" r="1.95" fill="#000"/>
<circle cx="503.10" cy="640.80" r="1.95" fill="#000"/>
<circle cx="508.20" cy="637.00" r="1.95" fill="#000"/>
<line x1="493.90" y1="636.30" x2="512.50" y2="636.30" stroke="#000" stroke-width="1.3" />
<text x="383.00" y="674.80" font-size="7.2" text-anchor="middle" fill="#231f20" color="#231f20" stroke-width="0.16" textLength="48.00" lengthAdjust="spacingAndGlyphs" transform="rotate(-45 383.00 674.80)">Non-depleted</text>
<text x="413.50" y="669.00" font-size="7.2" text-anchor="middle" fill="#231f20" color="#231f20" stroke-width="0.16" textLength="33.00" lengthAdjust="spacingAndGlyphs" transform="rotate(-45 413.50 669.00)">Depleted</text>
<text x="466.00" y="674.80" font-size="7.2" text-anchor="middle" fill="#231f20" color="#231f20" stroke-width="0.16" textLength="48.00" lengthAdjust="spacingAndGlyphs" transform="rotate(-45 466.00 674.80)">Non-depleted</text>
<text x="495.00" y="669.00" font-size="7.2" text-anchor="middle" fill="#231f20" color="#231f20" stroke-width="0.16" textLength="33.00" lengthAdjust="spacingAndGlyphs" transform="rotate(-45 495.00 669.00)">Depleted</text>
</svg>
</body></html>
